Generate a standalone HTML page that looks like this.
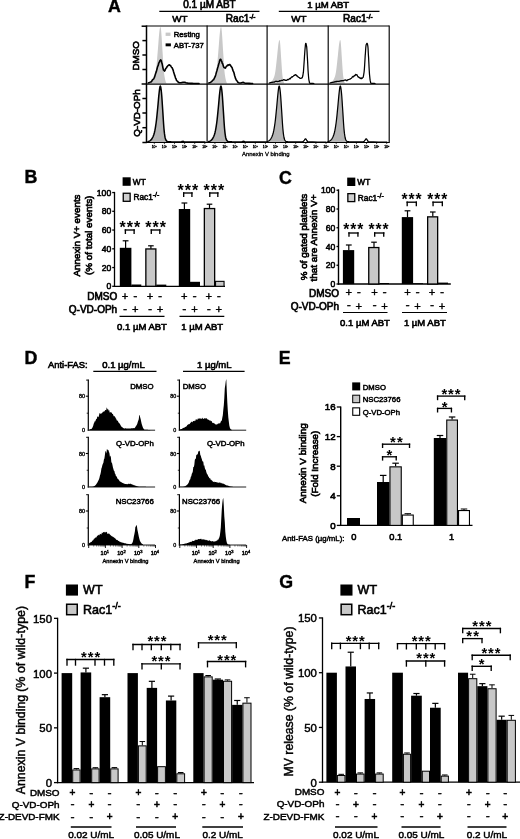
<!DOCTYPE html>
<html><head><meta charset="utf-8"><title>Figure</title>
<style>html,body{margin:0;padding:0;background:#fff}svg{display:block}text{font-family:'Liberation Sans', sans-serif;fill:#000}</style>
</head><body>
<svg width="520" height="839" viewBox="0 0 520 839">
<rect width="520" height="839" fill="#fff"/>
<text x="108.00" y="12.40" font-size="17.8" font-weight="bold" stroke="#000" stroke-width="0.4">A</text>
<line x1="159.30" y1="11.30" x2="259.50" y2="11.30" stroke="#000" stroke-width="1.3" stroke-linecap="butt"/>
<line x1="278.80" y1="11.30" x2="379.50" y2="11.30" stroke="#000" stroke-width="1.3" stroke-linecap="butt"/>
<text x="209.50" y="7.70" font-size="10.0" text-anchor="middle" stroke="#000" stroke-width="0.65">0.1 µM ABT</text>
<text x="328.20" y="7.80" font-size="9.5" text-anchor="middle" stroke="#000" stroke-width="0.62">1 µM ABT</text>
<text x="179.80" y="22.00" font-size="9.8" text-anchor="middle" stroke="#000" stroke-width="0.64">WT</text>
<text x="298.90" y="22.00" font-size="9.8" text-anchor="middle" stroke="#000" stroke-width="0.64">WT</text>
<text x="225.80" y="22.00" font-size="10.1" stroke="#000" stroke-width="0.66">Rac1<tspan font-size="6.40" dy="-3.40">-/-</tspan></text>
<text x="343.00" y="22.00" font-size="10.1" stroke="#000" stroke-width="0.66">Rac1<tspan font-size="6.40" dy="-3.40">-/-</tspan></text>
<text x="139.30" y="55.80" font-size="9.8" text-anchor="middle" transform="rotate(-90 139.30 55.80)" stroke="#000" stroke-width="0.64">DMSO</text>
<text x="139.80" y="113.00" font-size="9.8" text-anchor="middle" transform="rotate(-90 139.80 113.00)" stroke="#000" stroke-width="0.64">Q-VD-OPh</text>
<path d="M148.90,83.60 L149.47,83.23 L150.28,82.76 L151.20,82.13 L152.13,81.30 L152.93,80.20 L153.59,78.91 L154.21,77.45 L154.78,75.73 L155.31,73.67 L155.80,71.15 L156.24,68.05 L156.62,64.42 L156.97,60.48 L157.30,56.43 L157.64,52.47 L157.98,48.35 L158.32,43.95 L158.65,39.62 L158.96,35.73 L159.25,32.66 L159.51,30.44 L159.75,28.83 L159.98,27.77 L160.19,27.18 L160.40,27.00 L160.59,27.21 L160.77,27.85 L160.94,28.96 L161.12,30.55 L161.31,32.66 L161.52,35.43 L161.74,38.85 L161.98,42.68 L162.22,46.73 L162.48,50.77 L162.76,55.06 L163.05,59.73 L163.35,64.41 L163.66,68.72 L163.97,72.28 L164.30,75.00 L164.63,77.12 L164.97,78.80 L165.29,80.16 L165.60,81.34 L165.90,82.26 L166.21,82.84 L166.49,83.18 L166.73,83.40 L166.90,83.60 Z" fill="#c8c8c8"/>
<path d="M148.20,83.00 L148.80,82.76 L149.66,82.42 L150.62,81.91 L151.50,81.64 L152.28,80.07 L153.05,79.35 L153.79,78.81 L154.50,77.15 L155.16,74.90 L155.79,73.03 L156.40,71.36 L157.00,68.95 L157.61,66.63 L158.21,65.47 L158.79,63.03 L159.30,62.13 L159.74,61.17 L160.12,60.42 L160.46,60.59 L160.80,59.91 L161.10,60.67 L161.37,60.93 L161.65,62.69 L162.00,63.18 L162.44,65.30 L162.93,67.84 L163.46,69.95 L164.00,70.44 L164.54,71.11 L165.08,70.24 L165.66,68.61 L166.30,68.03 L167.04,66.73 L167.86,65.78 L168.67,65.05 L169.40,64.83 L170.02,65.40 L170.57,65.51 L171.09,66.65 L171.60,67.35 L172.09,67.64 L172.56,68.91 L173.02,69.78 L173.50,71.58 L173.99,73.15 L174.49,74.89 L175.00,76.17 L175.50,78.10 L175.99,78.79 L176.47,80.38 L176.96,80.82 L177.50,81.14 L178.05,82.02 L178.62,82.41 L179.26,82.66 L180.00,82.80 L180.92,82.75 L181.97,82.53 L183.04,82.30 L184.00,82.20 L184.77,82.31 L185.44,82.54 L186.13,82.80 L187.00,83.00 L188.06,83.14 L189.25,83.24 L190.56,83.33 L192.00,83.40 L193.77,83.45 L195.81,83.48 L197.70,83.49 L199.00,83.50" fill="none" stroke="#000" stroke-width="1.6" stroke-linejoin="round" stroke-linecap="round"/>
<path d="M209.50,83.60 L210.07,83.23 L210.88,82.76 L211.80,82.13 L212.73,81.30 L213.53,80.20 L214.19,78.91 L214.81,77.45 L215.38,75.73 L215.91,73.67 L216.40,71.15 L216.84,68.05 L217.22,64.42 L217.57,60.48 L217.90,56.43 L218.24,52.47 L218.58,48.35 L218.92,43.95 L219.25,39.62 L219.56,35.73 L219.85,32.66 L220.11,30.44 L220.35,28.83 L220.58,27.77 L220.79,27.18 L221.00,27.00 L221.19,27.21 L221.37,27.85 L221.54,28.96 L221.72,30.55 L221.91,32.66 L222.12,35.43 L222.34,38.85 L222.58,42.68 L222.82,46.73 L223.08,50.77 L223.36,55.06 L223.65,59.73 L223.95,64.41 L224.26,68.72 L224.57,72.28 L224.90,75.00 L225.23,77.12 L225.57,78.80 L225.89,80.16 L226.20,81.34 L226.50,82.26 L226.81,82.84 L227.09,83.18 L227.33,83.40 L227.50,83.60 Z" fill="#c8c8c8"/>
<path d="M208.80,83.00 L209.40,82.77 L210.26,82.45 L211.22,81.88 L212.10,81.06 L212.88,80.10 L213.65,79.70 L214.39,78.10 L215.10,76.67 L215.77,74.65 L216.41,72.28 L217.02,70.31 L217.60,68.07 L218.15,66.27 L218.68,64.20 L219.17,62.63 L219.60,60.95 L219.95,59.83 L220.24,59.33 L220.50,59.68 L220.80,59.30 L221.11,60.22 L221.43,61.01 L221.78,61.54 L222.20,63.26 L222.73,63.86 L223.34,66.11 L223.98,67.42 L224.60,67.64 L225.18,68.10 L225.76,67.55 L226.33,66.26 L226.90,66.15 L227.47,65.19 L228.04,65.40 L228.62,64.84 L229.20,65.03 L229.80,64.47 L230.42,65.24 L231.03,66.24 L231.60,67.10 L232.13,67.75 L232.62,69.59 L233.11,70.90 L233.60,71.82 L234.10,73.27 L234.60,75.49 L235.10,76.97 L235.60,78.65 L236.09,79.64 L236.57,80.50 L237.06,80.94 L237.60,82.00 L238.18,82.46 L238.79,82.76 L239.43,82.92 L240.10,83.00 L240.83,82.93 L241.60,82.71 L242.37,82.49 L243.10,82.40 L243.65,82.51 L244.10,82.74 L244.67,83.00 L245.60,83.20 L247.20,83.32 L249.26,83.40 L251.24,83.46 L252.60,83.50" fill="none" stroke="#000" stroke-width="1.6" stroke-linejoin="round" stroke-linecap="round"/>
<path d="M268.00,83.60 L268.57,83.31 L269.38,82.95 L270.30,82.47 L271.23,81.83 L272.02,80.98 L272.69,79.99 L273.31,78.86 L273.88,77.54 L274.41,75.95 L274.90,74.01 L275.34,71.62 L275.72,68.83 L276.07,65.79 L276.40,62.67 L276.74,59.62 L277.08,56.45 L277.42,53.06 L277.75,49.72 L278.06,46.73 L278.35,44.36 L278.62,42.65 L278.86,41.41 L279.09,40.59 L279.30,40.14 L279.50,40.00 L279.67,40.16 L279.81,40.66 L279.94,41.51 L280.08,42.73 L280.23,44.36 L280.40,46.49 L280.57,49.12 L280.76,52.08 L280.96,55.20 L281.16,58.31 L281.38,61.61 L281.62,65.21 L281.86,68.82 L282.11,72.14 L282.36,74.88 L282.62,76.97 L282.88,78.61 L283.15,79.90 L283.41,80.95 L283.66,81.86 L283.90,82.57 L284.14,83.01 L284.37,83.28 L284.56,83.45 L284.70,83.60 Z" fill="#c8c8c8"/>
<path d="M269.20,83.00 L269.74,82.87 L270.51,82.68 L271.38,82.48 L272.20,82.30 L272.95,82.16 L273.70,82.04 L274.45,82.05 L275.20,81.37 L275.95,81.45 L276.70,81.24 L277.45,81.54 L278.20,81.36 L278.95,81.47 L279.70,80.70 L280.45,80.94 L281.20,80.48 L281.97,80.43 L282.76,80.41 L283.52,79.72 L284.20,79.73 L284.76,80.18 L285.23,80.26 L285.68,80.13 L286.20,80.48 L286.82,80.49 L287.51,79.44 L288.19,79.80 L288.80,79.38 L289.32,78.81 L289.79,78.43 L290.23,78.91 L290.70,78.05 L291.19,77.43 L291.69,76.96 L292.20,77.15 L292.70,76.49 L293.22,76.27 L293.76,75.82 L294.26,75.30 L294.70,75.43 L295.03,74.67 L295.29,74.65 L295.52,74.83 L295.80,74.71 L296.13,75.21 L296.48,75.41 L296.84,76.04 L297.20,75.89 L297.56,76.42 L297.91,76.82 L298.29,76.94 L298.70,77.36 L299.18,77.52 L299.70,77.94 L300.22,78.45 L300.70,78.28 L301.12,78.29 L301.50,78.08 L301.86,77.88 L302.20,77.89 L302.52,76.83 L302.82,75.79 L303.11,73.93 L303.40,72.21 L303.69,68.29 L303.97,64.17 L304.25,60.26 L304.50,56.13 L304.73,52.95 L304.93,50.32 L305.12,48.13 L305.30,46.25 L305.46,44.49 L305.60,43.54 L305.74,43.45 L305.90,43.39 L306.09,43.60 L306.29,44.86 L306.50,45.82 L306.70,46.83 L306.88,49.24 L307.04,51.62 L307.21,55.09 L307.40,57.96 L307.61,61.62 L307.83,65.96 L308.06,70.50 L308.30,73.79 L308.54,76.80 L308.79,79.28 L309.04,80.57 L309.30,82.00 L309.51,82.82 L309.69,83.14 L309.95,83.21 L310.40,83.30 L311.19,83.43 L312.22,83.48 L313.21,83.49 L313.90,83.50" fill="none" stroke="#000" stroke-width="1.25" stroke-linejoin="round" stroke-linecap="round"/>
<path d="M328.70,83.60 L329.27,83.31 L330.08,82.95 L331.00,82.47 L331.93,81.83 L332.72,80.98 L333.39,79.99 L334.01,78.86 L334.58,77.54 L335.11,75.95 L335.60,74.01 L336.04,71.62 L336.42,68.83 L336.77,65.79 L337.10,62.67 L337.44,59.62 L337.78,56.45 L338.12,53.06 L338.45,49.72 L338.76,46.73 L339.05,44.36 L339.32,42.65 L339.56,41.41 L339.79,40.59 L340.00,40.14 L340.20,40.00 L340.37,40.16 L340.51,40.66 L340.64,41.51 L340.78,42.73 L340.93,44.36 L341.10,46.49 L341.27,49.12 L341.46,52.08 L341.66,55.20 L341.86,58.31 L342.08,61.61 L342.32,65.21 L342.56,68.82 L342.81,72.14 L343.06,74.88 L343.32,76.97 L343.58,78.61 L343.85,79.90 L344.11,80.95 L344.36,81.86 L344.60,82.57 L344.84,83.01 L345.07,83.28 L345.26,83.45 L345.40,83.60 Z" fill="#c8c8c8"/>
<path d="M329.90,83.00 L330.44,82.87 L331.21,82.68 L332.08,82.48 L332.90,82.30 L333.65,82.16 L334.40,82.04 L335.15,81.51 L335.90,81.98 L336.65,81.33 L337.40,81.45 L338.15,81.49 L338.90,81.46 L339.65,81.08 L340.40,81.07 L341.15,80.58 L341.90,80.84 L342.67,80.57 L343.46,80.72 L344.22,80.19 L344.90,80.23 L345.46,79.99 L345.92,79.93 L346.38,80.70 L346.90,80.69 L347.52,80.10 L348.21,79.52 L348.89,79.53 L349.50,79.20 L350.02,79.20 L350.49,78.82 L350.93,78.51 L351.40,78.27 L351.89,77.69 L352.39,76.92 L352.90,76.45 L353.40,76.80 L353.92,76.30 L354.46,75.43 L354.96,75.62 L355.40,75.02 L355.73,74.42 L355.99,74.93 L356.22,74.60 L356.50,74.99 L356.83,75.05 L357.18,74.98 L357.54,75.96 L357.90,76.56 L358.26,77.02 L358.61,76.85 L358.99,77.35 L359.40,77.78 L359.88,77.58 L360.40,78.45 L360.92,78.58 L361.40,78.00 L361.82,78.48 L362.20,78.22 L362.56,77.81 L362.90,77.59 L363.22,77.12 L363.52,75.74 L363.81,73.87 L364.10,72.00 L364.39,68.85 L364.68,64.69 L364.95,60.02 L365.20,55.59 L365.41,53.32 L365.60,50.24 L365.79,47.45 L366.00,45.66 L366.26,44.36 L366.55,44.11 L366.84,43.30 L367.10,43.88 L367.32,43.51 L367.52,44.49 L367.71,45.43 L367.90,46.58 L368.08,48.65 L368.24,52.08 L368.41,55.15 L368.60,57.66 L368.81,62.05 L369.03,66.63 L369.26,70.81 L369.50,74.35 L369.74,76.57 L369.99,79.11 L370.24,80.66 L370.50,82.00 L370.71,82.82 L370.89,83.14 L371.15,83.21 L371.60,83.30 L372.39,83.43 L373.42,83.48 L374.41,83.49 L375.10,83.50" fill="none" stroke="#000" stroke-width="1.25" stroke-linejoin="round" stroke-linecap="round"/>
<path d="M147.90,141.60 L148.25,141.49 L148.76,141.34 L149.34,141.12 L149.90,140.80 L150.44,140.41 L150.99,139.94 L151.55,139.34 L152.10,138.50 L152.66,137.46 L153.22,136.23 L153.78,134.77 L154.30,133.00 L154.78,130.93 L155.24,128.59 L155.67,125.96 L156.10,123.00 L156.52,119.60 L156.92,115.81 L157.32,111.87 L157.70,108.00 L158.07,104.06 L158.42,100.00 L158.77,96.19 L159.10,93.00 L159.41,90.36 L159.71,88.12 L160.00,86.58 L160.30,86.00 L160.60,86.53 L160.90,88.00 L161.20,90.22 L161.50,93.00 L161.80,96.52 L162.10,100.81 L162.40,105.45 L162.70,110.00 L163.00,114.63 L163.30,119.47 L163.60,124.07 L163.90,128.00 L164.20,131.12 L164.49,133.67 L164.79,135.76 L165.10,137.50 L165.41,138.82 L165.73,139.69 L166.07,140.29 L166.50,140.80 L166.83,141.21 L167.09,141.44 L167.66,141.58 L168.90,141.70 L168.90,142.00 L147.90,142.00 Z" fill="#b4b4b4"/>
<path d="M147.90,141.60 L148.25,141.49 L148.76,141.34 L149.34,141.12 L149.90,140.80 L150.44,140.41 L150.99,139.94 L151.55,139.34 L152.10,138.50 L152.66,137.46 L153.22,136.23 L153.78,134.77 L154.30,133.00 L154.78,130.93 L155.24,128.59 L155.67,125.96 L156.10,123.00 L156.52,119.60 L156.92,115.81 L157.32,111.87 L157.70,108.00 L158.07,104.06 L158.42,100.00 L158.77,96.19 L159.10,93.00 L159.41,90.36 L159.71,88.12 L160.00,86.58 L160.30,86.00 L160.60,86.53 L160.90,88.00 L161.20,90.22 L161.50,93.00 L161.80,96.52 L162.10,100.81 L162.40,105.45 L162.70,110.00 L163.00,114.63 L163.30,119.47 L163.60,124.07 L163.90,128.00 L164.20,131.12 L164.49,133.67 L164.79,135.76 L165.10,137.50 L165.41,138.82 L165.73,139.69 L166.07,140.29 L166.50,140.80 L166.83,141.21 L167.09,141.44 L167.66,141.58 L168.90,141.70 L171.25,141.82 L174.41,141.89 L177.59,141.92 L180.00,141.90 L181.32,141.78 L182.01,141.58 L182.44,141.38 L183.00,141.30 L183.38,141.38 L183.50,141.56 L184.12,141.76 L186.00,141.90 L190.07,141.96 L195.69,141.99 L201.21,141.99 L205.00,142.00" fill="none" stroke="#000" stroke-width="1.5" stroke-linejoin="round" stroke-linecap="round"/>
<path d="M208.50,141.60 L208.85,141.49 L209.36,141.34 L209.94,141.12 L210.50,140.80 L211.04,140.41 L211.59,139.94 L212.15,139.34 L212.70,138.50 L213.26,137.46 L213.82,136.23 L214.38,134.77 L214.90,133.00 L215.38,130.93 L215.84,128.59 L216.27,125.96 L216.70,123.00 L217.12,119.60 L217.52,115.81 L217.92,111.87 L218.30,108.00 L218.67,104.06 L219.02,100.00 L219.37,96.19 L219.70,93.00 L220.01,90.36 L220.31,88.12 L220.60,86.58 L220.90,86.00 L221.20,86.53 L221.50,88.00 L221.80,90.22 L222.10,93.00 L222.40,96.52 L222.70,100.81 L223.00,105.45 L223.30,110.00 L223.60,114.63 L223.90,119.47 L224.20,124.07 L224.50,128.00 L224.80,131.12 L225.09,133.67 L225.39,135.76 L225.70,137.50 L226.01,138.82 L226.32,139.69 L226.67,140.29 L227.10,140.80 L227.43,141.21 L227.69,141.44 L228.26,141.58 L229.50,141.70 L229.50,142.00 L208.50,142.00 Z" fill="#b4b4b4"/>
<path d="M208.50,141.60 L208.85,141.49 L209.36,141.34 L209.94,141.12 L210.50,140.80 L211.04,140.41 L211.59,139.94 L212.15,139.34 L212.70,138.50 L213.26,137.46 L213.82,136.23 L214.38,134.77 L214.90,133.00 L215.38,130.93 L215.84,128.59 L216.27,125.96 L216.70,123.00 L217.12,119.60 L217.52,115.81 L217.92,111.87 L218.30,108.00 L218.67,104.06 L219.02,100.00 L219.37,96.19 L219.70,93.00 L220.01,90.36 L220.31,88.12 L220.60,86.58 L220.90,86.00 L221.20,86.53 L221.50,88.00 L221.80,90.22 L222.10,93.00 L222.40,96.52 L222.70,100.81 L223.00,105.45 L223.30,110.00 L223.60,114.63 L223.90,119.47 L224.20,124.07 L224.50,128.00 L224.80,131.12 L225.09,133.67 L225.39,135.76 L225.70,137.50 L226.01,138.82 L226.32,139.69 L226.67,140.29 L227.10,140.80 L227.43,141.21 L227.69,141.44 L228.26,141.58 L229.50,141.70 L231.85,141.82 L235.01,141.89 L238.19,141.92 L240.60,141.90 L241.92,141.78 L242.61,141.58 L243.04,141.38 L243.60,141.30 L243.97,141.38 L244.10,141.56 L244.72,141.76 L246.60,141.90 L250.67,141.96 L256.29,141.99 L261.81,141.99 L265.60,142.00" fill="none" stroke="#000" stroke-width="1.5" stroke-linejoin="round" stroke-linecap="round"/>
<path d="M266.80,141.60 L267.15,141.49 L267.66,141.34 L268.24,141.12 L268.80,140.80 L269.34,140.41 L269.89,139.94 L270.45,139.34 L271.00,138.50 L271.56,137.46 L272.13,136.23 L272.68,134.77 L273.20,133.00 L273.68,130.93 L274.14,128.59 L274.57,125.96 L275.00,123.00 L275.42,119.60 L275.82,115.81 L276.22,111.87 L276.60,108.00 L276.97,104.06 L277.32,100.00 L277.67,96.19 L278.00,93.00 L278.31,90.36 L278.61,88.12 L278.90,86.58 L279.20,86.00 L279.50,86.53 L279.80,88.00 L280.10,90.22 L280.40,93.00 L280.70,96.52 L281.00,100.81 L281.30,105.45 L281.60,110.00 L281.90,114.63 L282.20,119.47 L282.50,124.07 L282.80,128.00 L283.10,131.12 L283.39,133.67 L283.69,135.76 L284.00,137.50 L284.31,138.82 L284.62,139.69 L284.97,140.29 L285.40,140.80 L285.67,141.21 L285.85,141.45 L286.40,141.59 L287.80,141.70 L287.80,142.00 L266.80,142.00 Z" fill="#b4b4b4"/>
<path d="M266.80,141.60 L267.15,141.49 L267.66,141.34 L268.24,141.12 L268.80,140.80 L269.34,140.41 L269.89,139.94 L270.45,139.34 L271.00,138.50 L271.56,137.46 L272.13,136.23 L272.68,134.77 L273.20,133.00 L273.68,130.93 L274.14,128.59 L274.57,125.96 L275.00,123.00 L275.42,119.60 L275.82,115.81 L276.22,111.87 L276.60,108.00 L276.97,104.06 L277.32,100.00 L277.67,96.19 L278.00,93.00 L278.31,90.36 L278.61,88.12 L278.90,86.58 L279.20,86.00 L279.50,86.53 L279.80,88.00 L280.10,90.22 L280.40,93.00 L280.70,96.52 L281.00,100.81 L281.30,105.45 L281.60,110.00 L281.90,114.63 L282.20,119.47 L282.50,124.07 L282.80,128.00 L283.10,131.12 L283.39,133.67 L283.69,135.76 L284.00,137.50 L284.31,138.82 L284.62,139.69 L284.97,140.29 L285.40,140.80 L285.67,141.21 L285.85,141.45 L286.40,141.59 L287.80,141.70 L290.63,141.80 L294.49,141.86 L298.36,141.86 L301.20,141.80 L302.61,141.70 L303.17,141.54 L303.38,141.32 L303.70,141.00 L304.20,140.45 L304.65,139.71 L305.07,139.07 L305.50,138.80 L305.93,139.07 L306.34,139.71 L306.76,140.44 L307.20,141.00 L307.33,141.34 L307.24,141.58 L307.64,141.76 L309.20,141.90 L312.79,141.98 L317.82,142.01 L322.79,142.00 L326.20,142.00" fill="none" stroke="#000" stroke-width="1.25" stroke-linejoin="round" stroke-linecap="round"/>
<path d="M327.90,141.60 L328.25,141.49 L328.76,141.34 L329.34,141.12 L329.90,140.80 L330.44,140.41 L330.99,139.94 L331.55,139.34 L332.10,138.50 L332.66,137.46 L333.22,136.23 L333.78,134.77 L334.30,133.00 L334.78,130.93 L335.24,128.59 L335.67,125.96 L336.10,123.00 L336.52,119.60 L336.93,115.81 L337.32,111.87 L337.70,108.00 L338.07,104.06 L338.42,100.00 L338.77,96.19 L339.10,93.00 L339.41,90.36 L339.71,88.12 L340.00,86.58 L340.30,86.00 L340.60,86.53 L340.90,88.00 L341.20,90.22 L341.50,93.00 L341.80,96.52 L342.10,100.81 L342.40,105.45 L342.70,110.00 L343.00,114.63 L343.30,119.47 L343.60,124.07 L343.90,128.00 L344.20,131.12 L344.49,133.67 L344.79,135.76 L345.10,137.50 L345.41,138.82 L345.73,139.69 L346.08,140.29 L346.50,140.80 L346.78,141.21 L346.97,141.45 L347.53,141.59 L348.90,141.70 L348.90,142.00 L327.90,142.00 Z" fill="#b4b4b4"/>
<path d="M327.90,141.60 L328.25,141.49 L328.76,141.34 L329.34,141.12 L329.90,140.80 L330.44,140.41 L330.99,139.94 L331.55,139.34 L332.10,138.50 L332.66,137.46 L333.22,136.23 L333.78,134.77 L334.30,133.00 L334.78,130.93 L335.24,128.59 L335.67,125.96 L336.10,123.00 L336.52,119.60 L336.93,115.81 L337.32,111.87 L337.70,108.00 L338.07,104.06 L338.42,100.00 L338.77,96.19 L339.10,93.00 L339.41,90.36 L339.71,88.12 L340.00,86.58 L340.30,86.00 L340.60,86.53 L340.90,88.00 L341.20,90.22 L341.50,93.00 L341.80,96.52 L342.10,100.81 L342.40,105.45 L342.70,110.00 L343.00,114.63 L343.30,119.47 L343.60,124.07 L343.90,128.00 L344.20,131.12 L344.49,133.67 L344.79,135.76 L345.10,137.50 L345.41,138.82 L345.73,139.69 L346.08,140.29 L346.50,140.80 L346.78,141.21 L346.97,141.45 L347.53,141.59 L348.90,141.70 L351.65,141.80 L355.39,141.86 L359.14,141.86 L361.90,141.80 L363.28,141.70 L363.85,141.54 L364.07,141.32 L364.40,141.00 L364.90,140.45 L365.35,139.71 L365.77,139.07 L366.20,138.80 L366.62,139.07 L367.04,139.71 L367.46,140.44 L367.90,141.00 L368.03,141.34 L367.94,141.58 L368.34,141.76 L369.90,141.90 L373.49,141.98 L378.52,142.01 L383.49,142.00 L386.90,142.00" fill="none" stroke="#000" stroke-width="1.25" stroke-linejoin="round" stroke-linecap="round"/>
<rect x="165.60" y="32.60" width="4.90" height="3.30" fill="#c8c8c8"/>
<text x="173.80" y="37.20" font-size="7.7" stroke="#000" stroke-width="0.5">Resting</text>
<rect x="165.60" y="43.40" width="5.30" height="2.90" fill="#000"/>
<text x="173.80" y="47.80" font-size="7.7" stroke="#000" stroke-width="0.5">ABT-737</text>
<line x1="146.50" y1="25.40" x2="146.50" y2="143.10" stroke="#000" stroke-width="1.5" stroke-linecap="butt"/>
<line x1="207.10" y1="25.40" x2="207.10" y2="143.10" stroke="#000" stroke-width="1.15" stroke-linecap="butt"/>
<line x1="267.10" y1="25.40" x2="267.10" y2="143.10" stroke="#000" stroke-width="1.15" stroke-linecap="butt"/>
<line x1="328.20" y1="25.40" x2="328.20" y2="143.10" stroke="#000" stroke-width="1.15" stroke-linecap="butt"/>
<line x1="389.20" y1="25.40" x2="389.20" y2="143.10" stroke="#000" stroke-width="1.15" stroke-linecap="butt"/>
<line x1="146.50" y1="26.00" x2="389.20" y2="26.00" stroke="#000" stroke-width="1.2" stroke-linecap="butt"/>
<line x1="146.50" y1="84.10" x2="389.20" y2="84.10" stroke="#000" stroke-width="1.2" stroke-linecap="butt"/>
<line x1="146.50" y1="142.50" x2="389.20" y2="142.50" stroke="#000" stroke-width="1.2" stroke-linecap="butt"/>
<line x1="141.60" y1="26.20" x2="146.50" y2="26.20" stroke="#000" stroke-width="1.5" stroke-linecap="butt"/>
<line x1="142.40" y1="40.60" x2="146.50" y2="40.60" stroke="#000" stroke-width="1.5" stroke-linecap="butt"/>
<line x1="142.40" y1="55.00" x2="146.50" y2="55.00" stroke="#000" stroke-width="1.5" stroke-linecap="butt"/>
<line x1="142.40" y1="69.50" x2="146.50" y2="69.50" stroke="#000" stroke-width="1.5" stroke-linecap="butt"/>
<line x1="141.60" y1="84.00" x2="146.50" y2="84.00" stroke="#000" stroke-width="1.5" stroke-linecap="butt"/>
<line x1="142.40" y1="98.50" x2="146.50" y2="98.50" stroke="#000" stroke-width="1.5" stroke-linecap="butt"/>
<line x1="142.40" y1="113.00" x2="146.50" y2="113.00" stroke="#000" stroke-width="1.5" stroke-linecap="butt"/>
<line x1="142.40" y1="127.70" x2="146.50" y2="127.70" stroke="#000" stroke-width="1.5" stroke-linecap="butt"/>
<line x1="142.40" y1="142.50" x2="146.50" y2="142.50" stroke="#000" stroke-width="1.5" stroke-linecap="butt"/>
<text x="154.30" y="148.2" font-size="3.4" text-anchor="middle" stroke="#000" stroke-width="0.3">10<tspan font-size="2.4" dy="-1.4">0</tspan></text>
<line x1="154.30" y1="142.50" x2="154.30" y2="144.00" stroke="#000" stroke-width="0.7" stroke-linecap="butt"/>
<text x="164.40" y="148.2" font-size="3.4" text-anchor="middle" stroke="#000" stroke-width="0.3">10<tspan font-size="2.4" dy="-1.4">1</tspan></text>
<line x1="164.40" y1="142.50" x2="164.40" y2="144.00" stroke="#000" stroke-width="0.7" stroke-linecap="butt"/>
<text x="174.50" y="148.2" font-size="3.4" text-anchor="middle" stroke="#000" stroke-width="0.3">10<tspan font-size="2.4" dy="-1.4">2</tspan></text>
<line x1="174.50" y1="142.50" x2="174.50" y2="144.00" stroke="#000" stroke-width="0.7" stroke-linecap="butt"/>
<text x="184.60" y="148.2" font-size="3.4" text-anchor="middle" stroke="#000" stroke-width="0.3">10<tspan font-size="2.4" dy="-1.4">3</tspan></text>
<line x1="184.60" y1="142.50" x2="184.60" y2="144.00" stroke="#000" stroke-width="0.7" stroke-linecap="butt"/>
<text x="194.70" y="148.2" font-size="3.4" text-anchor="middle" stroke="#000" stroke-width="0.3">10<tspan font-size="2.4" dy="-1.4">4</tspan></text>
<line x1="194.70" y1="142.50" x2="194.70" y2="144.00" stroke="#000" stroke-width="0.7" stroke-linecap="butt"/>
<text x="204.80" y="148.2" font-size="3.4" text-anchor="middle" stroke="#000" stroke-width="0.3">10<tspan font-size="2.4" dy="-1.4">5</tspan></text>
<line x1="204.80" y1="142.50" x2="204.80" y2="144.00" stroke="#000" stroke-width="0.7" stroke-linecap="butt"/>
<text x="214.90" y="148.2" font-size="3.4" text-anchor="middle" stroke="#000" stroke-width="0.3">10<tspan font-size="2.4" dy="-1.4">0</tspan></text>
<line x1="214.90" y1="142.50" x2="214.90" y2="144.00" stroke="#000" stroke-width="0.7" stroke-linecap="butt"/>
<text x="225.00" y="148.2" font-size="3.4" text-anchor="middle" stroke="#000" stroke-width="0.3">10<tspan font-size="2.4" dy="-1.4">1</tspan></text>
<line x1="225.00" y1="142.50" x2="225.00" y2="144.00" stroke="#000" stroke-width="0.7" stroke-linecap="butt"/>
<text x="235.10" y="148.2" font-size="3.4" text-anchor="middle" stroke="#000" stroke-width="0.3">10<tspan font-size="2.4" dy="-1.4">2</tspan></text>
<line x1="235.10" y1="142.50" x2="235.10" y2="144.00" stroke="#000" stroke-width="0.7" stroke-linecap="butt"/>
<text x="245.20" y="148.2" font-size="3.4" text-anchor="middle" stroke="#000" stroke-width="0.3">10<tspan font-size="2.4" dy="-1.4">3</tspan></text>
<line x1="245.20" y1="142.50" x2="245.20" y2="144.00" stroke="#000" stroke-width="0.7" stroke-linecap="butt"/>
<text x="255.30" y="148.2" font-size="3.4" text-anchor="middle" stroke="#000" stroke-width="0.3">10<tspan font-size="2.4" dy="-1.4">4</tspan></text>
<line x1="255.30" y1="142.50" x2="255.30" y2="144.00" stroke="#000" stroke-width="0.7" stroke-linecap="butt"/>
<text x="265.40" y="148.2" font-size="3.4" text-anchor="middle" stroke="#000" stroke-width="0.3">10<tspan font-size="2.4" dy="-1.4">5</tspan></text>
<line x1="265.40" y1="142.50" x2="265.40" y2="144.00" stroke="#000" stroke-width="0.7" stroke-linecap="butt"/>
<text x="275.50" y="148.2" font-size="3.4" text-anchor="middle" stroke="#000" stroke-width="0.3">10<tspan font-size="2.4" dy="-1.4">0</tspan></text>
<line x1="275.50" y1="142.50" x2="275.50" y2="144.00" stroke="#000" stroke-width="0.7" stroke-linecap="butt"/>
<text x="285.60" y="148.2" font-size="3.4" text-anchor="middle" stroke="#000" stroke-width="0.3">10<tspan font-size="2.4" dy="-1.4">1</tspan></text>
<line x1="285.60" y1="142.50" x2="285.60" y2="144.00" stroke="#000" stroke-width="0.7" stroke-linecap="butt"/>
<text x="295.70" y="148.2" font-size="3.4" text-anchor="middle" stroke="#000" stroke-width="0.3">10<tspan font-size="2.4" dy="-1.4">2</tspan></text>
<line x1="295.70" y1="142.50" x2="295.70" y2="144.00" stroke="#000" stroke-width="0.7" stroke-linecap="butt"/>
<text x="305.80" y="148.2" font-size="3.4" text-anchor="middle" stroke="#000" stroke-width="0.3">10<tspan font-size="2.4" dy="-1.4">3</tspan></text>
<line x1="305.80" y1="142.50" x2="305.80" y2="144.00" stroke="#000" stroke-width="0.7" stroke-linecap="butt"/>
<text x="315.90" y="148.2" font-size="3.4" text-anchor="middle" stroke="#000" stroke-width="0.3">10<tspan font-size="2.4" dy="-1.4">4</tspan></text>
<line x1="315.90" y1="142.50" x2="315.90" y2="144.00" stroke="#000" stroke-width="0.7" stroke-linecap="butt"/>
<text x="326.00" y="148.2" font-size="3.4" text-anchor="middle" stroke="#000" stroke-width="0.3">10<tspan font-size="2.4" dy="-1.4">5</tspan></text>
<line x1="326.00" y1="142.50" x2="326.00" y2="144.00" stroke="#000" stroke-width="0.7" stroke-linecap="butt"/>
<text x="336.20" y="148.2" font-size="3.4" text-anchor="middle" stroke="#000" stroke-width="0.3">10<tspan font-size="2.4" dy="-1.4">0</tspan></text>
<line x1="336.20" y1="142.50" x2="336.20" y2="144.00" stroke="#000" stroke-width="0.7" stroke-linecap="butt"/>
<text x="346.30" y="148.2" font-size="3.4" text-anchor="middle" stroke="#000" stroke-width="0.3">10<tspan font-size="2.4" dy="-1.4">1</tspan></text>
<line x1="346.30" y1="142.50" x2="346.30" y2="144.00" stroke="#000" stroke-width="0.7" stroke-linecap="butt"/>
<text x="356.40" y="148.2" font-size="3.4" text-anchor="middle" stroke="#000" stroke-width="0.3">10<tspan font-size="2.4" dy="-1.4">2</tspan></text>
<line x1="356.40" y1="142.50" x2="356.40" y2="144.00" stroke="#000" stroke-width="0.7" stroke-linecap="butt"/>
<text x="366.50" y="148.2" font-size="3.4" text-anchor="middle" stroke="#000" stroke-width="0.3">10<tspan font-size="2.4" dy="-1.4">3</tspan></text>
<line x1="366.50" y1="142.50" x2="366.50" y2="144.00" stroke="#000" stroke-width="0.7" stroke-linecap="butt"/>
<text x="376.60" y="148.2" font-size="3.4" text-anchor="middle" stroke="#000" stroke-width="0.3">10<tspan font-size="2.4" dy="-1.4">4</tspan></text>
<line x1="376.60" y1="142.50" x2="376.60" y2="144.00" stroke="#000" stroke-width="0.7" stroke-linecap="butt"/>
<text x="386.70" y="148.2" font-size="3.4" text-anchor="middle" stroke="#000" stroke-width="0.3">10<tspan font-size="2.4" dy="-1.4">5</tspan></text>
<line x1="386.70" y1="142.50" x2="386.70" y2="144.00" stroke="#000" stroke-width="0.7" stroke-linecap="butt"/>
<text x="265.80" y="156.20" font-size="5.9" text-anchor="middle" textLength="47.50" lengthAdjust="spacingAndGlyphs" stroke="#000" stroke-width="0.3">Annexin V binding</text>
<text x="24.60" y="183.40" font-size="17.8" font-weight="bold" stroke="#000" stroke-width="0.4">B</text>
<line x1="114.50" y1="191.90" x2="114.50" y2="286.90" stroke="#000" stroke-width="1.3" stroke-linecap="butt"/>
<line x1="113.90" y1="286.30" x2="225.00" y2="286.30" stroke="#000" stroke-width="1.3" stroke-linecap="butt"/>
<line x1="112.20" y1="286.30" x2="114.50" y2="286.30" stroke="#000" stroke-width="1.3" stroke-linecap="butt"/>
<text x="111.20" y="289.40" font-size="8.6" text-anchor="end" stroke="#000" stroke-width="0.56">0</text>
<line x1="112.20" y1="267.55" x2="114.50" y2="267.55" stroke="#000" stroke-width="1.3" stroke-linecap="butt"/>
<text x="111.20" y="270.65" font-size="8.6" text-anchor="end" stroke="#000" stroke-width="0.56">20</text>
<line x1="112.20" y1="248.80" x2="114.50" y2="248.80" stroke="#000" stroke-width="1.3" stroke-linecap="butt"/>
<text x="111.20" y="251.90" font-size="8.6" text-anchor="end" stroke="#000" stroke-width="0.56">40</text>
<line x1="112.20" y1="230.05" x2="114.50" y2="230.05" stroke="#000" stroke-width="1.3" stroke-linecap="butt"/>
<text x="111.20" y="233.15" font-size="8.6" text-anchor="end" stroke="#000" stroke-width="0.56">60</text>
<line x1="112.20" y1="211.30" x2="114.50" y2="211.30" stroke="#000" stroke-width="1.3" stroke-linecap="butt"/>
<text x="111.20" y="214.40" font-size="8.6" text-anchor="end" stroke="#000" stroke-width="0.56">80</text>
<line x1="112.20" y1="192.55" x2="114.50" y2="192.55" stroke="#000" stroke-width="1.3" stroke-linecap="butt"/>
<text x="111.20" y="195.65" font-size="8.6" text-anchor="end" stroke="#000" stroke-width="0.56">100</text>
<text x="80.00" y="235.50" font-size="9.8" text-anchor="middle" transform="rotate(-90 80.00 235.50)" textLength="82.00" lengthAdjust="spacingAndGlyphs" stroke="#000" stroke-width="0.64">Annexin V+ events</text>
<text x="91.80" y="235.30" font-size="9.8" text-anchor="middle" transform="rotate(-90 91.80 235.30)" textLength="79.40" lengthAdjust="spacingAndGlyphs" stroke="#000" stroke-width="0.64">(% of total events)</text>
<rect x="122.60" y="177.30" width="8.10" height="8.50" fill="#000"/>
<text x="132.80" y="185.00" font-size="8.3" stroke="#000" stroke-width="0.54">WT</text>
<rect x="123.25" y="193.25" width="6.90" height="8.05" fill="#d0d0d0" stroke="#000" stroke-width="1.3"/>
<text x="133.40" y="200.20" font-size="8.3" stroke="#000" stroke-width="0.54">Rac1<tspan font-size="7.00" dy="-2.80">-/-</tspan></text>
<line x1="125.60" y1="248.00" x2="125.60" y2="240.80" stroke="#000" stroke-width="1.2" stroke-linecap="butt"/>
<line x1="122.70" y1="240.80" x2="128.50" y2="240.80" stroke="#000" stroke-width="1.2" stroke-linecap="butt"/>
<rect x="119.80" y="247.80" width="11.60" height="38.50" fill="#000"/>
<rect x="131.30" y="284.50" width="10.00" height="1.80" fill="#000"/>
<line x1="150.90" y1="248.80" x2="150.90" y2="245.80" stroke="#000" stroke-width="1.2" stroke-linecap="butt"/>
<line x1="148.10" y1="245.80" x2="153.70" y2="245.80" stroke="#000" stroke-width="1.2" stroke-linecap="butt"/>
<rect x="145.85" y="248.95" width="10.00" height="37.35" fill="#c8c8c8" stroke="#000" stroke-width="1.3"/>
<rect x="156.30" y="284.60" width="10.00" height="1.70" fill="#000"/>
<line x1="184.40" y1="209.00" x2="184.40" y2="203.00" stroke="#000" stroke-width="1.2" stroke-linecap="butt"/>
<line x1="181.50" y1="203.00" x2="187.30" y2="203.00" stroke="#000" stroke-width="1.2" stroke-linecap="butt"/>
<rect x="178.80" y="209.00" width="11.40" height="77.30" fill="#000"/>
<rect x="190.00" y="281.80" width="10.00" height="4.50" fill="#000"/>
<line x1="209.50" y1="208.40" x2="209.50" y2="204.20" stroke="#000" stroke-width="1.2" stroke-linecap="butt"/>
<line x1="206.70" y1="204.20" x2="212.30" y2="204.20" stroke="#000" stroke-width="1.2" stroke-linecap="butt"/>
<rect x="204.35" y="208.55" width="10.30" height="77.75" fill="#c8c8c8" stroke="#000" stroke-width="1.3"/>
<rect x="215.55" y="281.35" width="8.50" height="4.95" fill="#c8c8c8" stroke="#000" stroke-width="1.1"/>
<text x="130.31" y="233.19" font-size="16.02" text-anchor="middle" font-weight="bold" letter-spacing="1.02">***</text>
<text x="156.01" y="233.19" font-size="16.02" text-anchor="middle" font-weight="bold" letter-spacing="1.02">***</text>
<text x="188.31" y="196.49" font-size="16.02" text-anchor="middle" font-weight="bold" letter-spacing="1.02">***</text>
<text x="214.31" y="196.49" font-size="16.02" text-anchor="middle" font-weight="bold" letter-spacing="1.02">***</text>
<line x1="124.70" y1="230.00" x2="134.80" y2="230.00" stroke="#000" stroke-width="1.35" stroke-linecap="butt"/>
<line x1="125.38" y1="229.32" x2="125.38" y2="234.00" stroke="#000" stroke-width="1.35" stroke-linecap="butt"/>
<line x1="134.12" y1="229.32" x2="134.12" y2="234.00" stroke="#000" stroke-width="1.35" stroke-linecap="butt"/>
<line x1="150.60" y1="230.00" x2="160.50" y2="230.00" stroke="#000" stroke-width="1.35" stroke-linecap="butt"/>
<line x1="151.28" y1="229.32" x2="151.28" y2="234.00" stroke="#000" stroke-width="1.35" stroke-linecap="butt"/>
<line x1="159.82" y1="229.32" x2="159.82" y2="234.00" stroke="#000" stroke-width="1.35" stroke-linecap="butt"/>
<line x1="183.00" y1="193.00" x2="192.60" y2="193.00" stroke="#000" stroke-width="1.35" stroke-linecap="butt"/>
<line x1="183.68" y1="192.32" x2="183.68" y2="196.90" stroke="#000" stroke-width="1.35" stroke-linecap="butt"/>
<line x1="191.92" y1="192.32" x2="191.92" y2="196.90" stroke="#000" stroke-width="1.35" stroke-linecap="butt"/>
<line x1="209.10" y1="193.00" x2="218.50" y2="193.00" stroke="#000" stroke-width="1.35" stroke-linecap="butt"/>
<line x1="209.78" y1="192.32" x2="209.78" y2="196.90" stroke="#000" stroke-width="1.35" stroke-linecap="butt"/>
<line x1="217.82" y1="192.32" x2="217.82" y2="196.90" stroke="#000" stroke-width="1.35" stroke-linecap="butt"/>
<text x="117.20" y="299.70" font-size="10" text-anchor="end" stroke="#000" stroke-width="0.65">DMSO</text>
<text x="117.20" y="312.50" font-size="10" text-anchor="end" stroke="#000" stroke-width="0.65">Q-VD-OPh</text>
<text x="125.00" y="299.61" font-size="11.2" text-anchor="middle" stroke="#000" stroke-width="0.4">+</text>
<text x="125.00" y="313.06" font-size="12.59" text-anchor="middle" stroke="#000" stroke-width="0.29">-</text>
<text x="135.30" y="299.66" font-size="12.59" text-anchor="middle" stroke="#000" stroke-width="0.29">-</text>
<text x="135.30" y="313.11" font-size="11.2" text-anchor="middle" stroke="#000" stroke-width="0.4">+</text>
<text x="150.00" y="299.61" font-size="11.2" text-anchor="middle" stroke="#000" stroke-width="0.4">+</text>
<text x="150.00" y="313.06" font-size="12.59" text-anchor="middle" stroke="#000" stroke-width="0.29">-</text>
<text x="160.00" y="299.66" font-size="12.59" text-anchor="middle" stroke="#000" stroke-width="0.29">-</text>
<text x="160.00" y="313.11" font-size="11.2" text-anchor="middle" stroke="#000" stroke-width="0.4">+</text>
<text x="184.30" y="299.61" font-size="11.2" text-anchor="middle" stroke="#000" stroke-width="0.4">+</text>
<text x="184.30" y="313.06" font-size="12.59" text-anchor="middle" stroke="#000" stroke-width="0.29">-</text>
<text x="194.50" y="299.66" font-size="12.59" text-anchor="middle" stroke="#000" stroke-width="0.29">-</text>
<text x="194.50" y="313.11" font-size="11.2" text-anchor="middle" stroke="#000" stroke-width="0.4">+</text>
<text x="208.80" y="299.61" font-size="11.2" text-anchor="middle" stroke="#000" stroke-width="0.4">+</text>
<text x="208.80" y="313.06" font-size="12.59" text-anchor="middle" stroke="#000" stroke-width="0.29">-</text>
<text x="218.80" y="299.66" font-size="12.59" text-anchor="middle" stroke="#000" stroke-width="0.29">-</text>
<text x="218.80" y="313.11" font-size="11.2" text-anchor="middle" stroke="#000" stroke-width="0.4">+</text>
<line x1="119.50" y1="316.30" x2="164.50" y2="316.30" stroke="#000" stroke-width="1.2" stroke-linecap="butt"/>
<line x1="179.50" y1="316.30" x2="224.30" y2="316.30" stroke="#000" stroke-width="1.2" stroke-linecap="butt"/>
<text x="142.00" y="329.50" font-size="9.5" text-anchor="middle" stroke="#000" stroke-width="0.62">0.1 µM ABT</text>
<text x="202.20" y="329.50" font-size="9.5" text-anchor="middle" stroke="#000" stroke-width="0.62">1 µM ABT</text>
<text x="279.00" y="183.80" font-size="17.8" font-weight="bold" stroke="#000" stroke-width="0.4">C</text>
<line x1="338.50" y1="189.40" x2="338.50" y2="284.70" stroke="#000" stroke-width="1.4" stroke-linecap="butt"/>
<line x1="338.20" y1="284.00" x2="450.80" y2="284.00" stroke="#000" stroke-width="1.3" stroke-linecap="butt"/>
<line x1="336.50" y1="284.00" x2="338.80" y2="284.00" stroke="#000" stroke-width="1.3" stroke-linecap="butt"/>
<text x="335.40" y="287.10" font-size="8.6" text-anchor="end" stroke="#000" stroke-width="0.56">0</text>
<line x1="336.50" y1="265.25" x2="338.80" y2="265.25" stroke="#000" stroke-width="1.3" stroke-linecap="butt"/>
<text x="335.40" y="268.35" font-size="8.6" text-anchor="end" stroke="#000" stroke-width="0.56">20</text>
<line x1="336.50" y1="246.50" x2="338.80" y2="246.50" stroke="#000" stroke-width="1.3" stroke-linecap="butt"/>
<text x="335.40" y="249.60" font-size="8.6" text-anchor="end" stroke="#000" stroke-width="0.56">40</text>
<line x1="336.50" y1="227.75" x2="338.80" y2="227.75" stroke="#000" stroke-width="1.3" stroke-linecap="butt"/>
<text x="335.40" y="230.85" font-size="8.6" text-anchor="end" stroke="#000" stroke-width="0.56">60</text>
<line x1="336.50" y1="209.00" x2="338.80" y2="209.00" stroke="#000" stroke-width="1.3" stroke-linecap="butt"/>
<text x="335.40" y="212.10" font-size="8.6" text-anchor="end" stroke="#000" stroke-width="0.56">80</text>
<line x1="336.50" y1="190.25" x2="338.80" y2="190.25" stroke="#000" stroke-width="1.3" stroke-linecap="butt"/>
<text x="335.40" y="193.35" font-size="8.6" text-anchor="end" stroke="#000" stroke-width="0.56">100</text>
<text x="307.00" y="237.00" font-size="9.8" text-anchor="middle" transform="rotate(-90 307.00 237.00)" textLength="86.50" lengthAdjust="spacingAndGlyphs" stroke="#000" stroke-width="0.64">% of gated platelets</text>
<text x="317.40" y="238.00" font-size="9.6" text-anchor="middle" transform="rotate(-90 317.40 238.00)" textLength="87.20" lengthAdjust="spacingAndGlyphs" stroke="#000" stroke-width="0.62">that are Annexin V+</text>
<rect x="347.20" y="177.60" width="8.10" height="8.40" fill="#000"/>
<text x="357.30" y="185.20" font-size="8.3" stroke="#000" stroke-width="0.54">WT</text>
<rect x="347.85" y="193.65" width="6.90" height="7.95" fill="#d0d0d0" stroke="#000" stroke-width="1.3"/>
<text x="357.80" y="200.50" font-size="8.3" stroke="#000" stroke-width="0.54">Rac1<tspan font-size="7.00" dy="-2.80">-/-</tspan></text>
<line x1="348.80" y1="250.20" x2="348.80" y2="245.00" stroke="#000" stroke-width="1.2" stroke-linecap="butt"/>
<line x1="345.90" y1="245.00" x2="351.70" y2="245.00" stroke="#000" stroke-width="1.2" stroke-linecap="butt"/>
<rect x="342.90" y="250.10" width="11.30" height="33.90" fill="#000"/>
<line x1="374.00" y1="247.50" x2="374.00" y2="242.20" stroke="#000" stroke-width="1.2" stroke-linecap="butt"/>
<line x1="371.20" y1="242.20" x2="376.80" y2="242.20" stroke="#000" stroke-width="1.2" stroke-linecap="butt"/>
<rect x="368.75" y="247.55" width="10.10" height="36.45" fill="#c8c8c8" stroke="#000" stroke-width="1.3"/>
<line x1="407.50" y1="217.30" x2="407.50" y2="210.80" stroke="#000" stroke-width="1.2" stroke-linecap="butt"/>
<line x1="404.60" y1="210.80" x2="410.40" y2="210.80" stroke="#000" stroke-width="1.2" stroke-linecap="butt"/>
<rect x="401.80" y="217.10" width="11.30" height="66.90" fill="#000"/>
<line x1="432.80" y1="216.60" x2="432.80" y2="212.00" stroke="#000" stroke-width="1.2" stroke-linecap="butt"/>
<line x1="430.00" y1="212.00" x2="435.60" y2="212.00" stroke="#000" stroke-width="1.2" stroke-linecap="butt"/>
<rect x="427.65" y="216.85" width="10.00" height="67.15" fill="#c8c8c8" stroke="#000" stroke-width="1.3"/>
<rect x="379.50" y="283.00" width="9.50" height="1.00" fill="#000"/>
<rect x="438.00" y="282.60" width="10.00" height="1.40" fill="#000"/>
<rect x="413.00" y="283.20" width="10.00" height="0.80" fill="#000"/>
<text x="353.70" y="235.47" font-size="15.57" text-anchor="middle" font-weight="bold" letter-spacing="0.99">***</text>
<text x="379.10" y="235.47" font-size="15.57" text-anchor="middle" font-weight="bold" letter-spacing="0.99">***</text>
<text x="412.10" y="205.27" font-size="15.57" text-anchor="middle" font-weight="bold" letter-spacing="0.99">***</text>
<text x="437.70" y="205.27" font-size="15.57" text-anchor="middle" font-weight="bold" letter-spacing="0.99">***</text>
<line x1="348.30" y1="233.00" x2="358.60" y2="233.00" stroke="#000" stroke-width="1.35" stroke-linecap="butt"/>
<line x1="348.98" y1="232.32" x2="348.98" y2="236.80" stroke="#000" stroke-width="1.35" stroke-linecap="butt"/>
<line x1="357.93" y1="232.32" x2="357.93" y2="236.80" stroke="#000" stroke-width="1.35" stroke-linecap="butt"/>
<line x1="374.00" y1="233.00" x2="384.40" y2="233.00" stroke="#000" stroke-width="1.35" stroke-linecap="butt"/>
<line x1="374.68" y1="232.32" x2="374.68" y2="236.80" stroke="#000" stroke-width="1.35" stroke-linecap="butt"/>
<line x1="383.72" y1="232.32" x2="383.72" y2="236.80" stroke="#000" stroke-width="1.35" stroke-linecap="butt"/>
<line x1="406.50" y1="202.20" x2="417.00" y2="202.20" stroke="#000" stroke-width="1.35" stroke-linecap="butt"/>
<line x1="407.18" y1="201.52" x2="407.18" y2="206.20" stroke="#000" stroke-width="1.35" stroke-linecap="butt"/>
<line x1="416.32" y1="201.52" x2="416.32" y2="206.20" stroke="#000" stroke-width="1.35" stroke-linecap="butt"/>
<line x1="432.40" y1="202.20" x2="443.00" y2="202.20" stroke="#000" stroke-width="1.35" stroke-linecap="butt"/>
<line x1="433.07" y1="201.52" x2="433.07" y2="206.20" stroke="#000" stroke-width="1.35" stroke-linecap="butt"/>
<line x1="442.32" y1="201.52" x2="442.32" y2="206.20" stroke="#000" stroke-width="1.35" stroke-linecap="butt"/>
<text x="339.00" y="296.50" font-size="10" text-anchor="end" stroke="#000" stroke-width="0.65">DMSO</text>
<text x="339.00" y="309.50" font-size="10" text-anchor="end" stroke="#000" stroke-width="0.65">Q-VD-OPh</text>
<text x="348.80" y="296.41" font-size="11.2" text-anchor="middle" stroke="#000" stroke-width="0.4">+</text>
<text x="348.80" y="309.46" font-size="12.59" text-anchor="middle" stroke="#000" stroke-width="0.29">-</text>
<text x="358.80" y="296.46" font-size="12.59" text-anchor="middle" stroke="#000" stroke-width="0.29">-</text>
<text x="358.80" y="309.61" font-size="11.2" text-anchor="middle" stroke="#000" stroke-width="0.4">+</text>
<text x="374.50" y="296.41" font-size="11.2" text-anchor="middle" stroke="#000" stroke-width="0.4">+</text>
<text x="374.50" y="309.46" font-size="12.59" text-anchor="middle" stroke="#000" stroke-width="0.29">-</text>
<text x="384.50" y="296.46" font-size="12.59" text-anchor="middle" stroke="#000" stroke-width="0.29">-</text>
<text x="384.50" y="309.61" font-size="11.2" text-anchor="middle" stroke="#000" stroke-width="0.4">+</text>
<text x="407.50" y="296.41" font-size="11.2" text-anchor="middle" stroke="#000" stroke-width="0.4">+</text>
<text x="407.50" y="309.46" font-size="12.59" text-anchor="middle" stroke="#000" stroke-width="0.29">-</text>
<text x="417.50" y="296.46" font-size="12.59" text-anchor="middle" stroke="#000" stroke-width="0.29">-</text>
<text x="417.50" y="309.61" font-size="11.2" text-anchor="middle" stroke="#000" stroke-width="0.4">+</text>
<text x="432.00" y="296.41" font-size="11.2" text-anchor="middle" stroke="#000" stroke-width="0.4">+</text>
<text x="432.00" y="309.46" font-size="12.59" text-anchor="middle" stroke="#000" stroke-width="0.29">-</text>
<text x="442.00" y="296.46" font-size="12.59" text-anchor="middle" stroke="#000" stroke-width="0.29">-</text>
<text x="442.00" y="309.61" font-size="11.2" text-anchor="middle" stroke="#000" stroke-width="0.4">+</text>
<line x1="343.00" y1="312.50" x2="387.50" y2="312.50" stroke="#000" stroke-width="1.2" stroke-linecap="butt"/>
<line x1="402.00" y1="312.50" x2="447.00" y2="312.50" stroke="#000" stroke-width="1.2" stroke-linecap="butt"/>
<text x="365.00" y="326.20" font-size="9.5" text-anchor="middle" stroke="#000" stroke-width="0.62">0.1 µM ABT</text>
<text x="424.90" y="326.20" font-size="9.5" text-anchor="middle" stroke="#000" stroke-width="0.62">1 µM ABT</text>
<text x="24.60" y="364.00" font-size="17.8" font-weight="bold" stroke="#000" stroke-width="0.4">D</text>
<text x="48.00" y="367.50" font-size="9.4" stroke="#000" stroke-width="0.61">Anti-FAS:</text>
<text x="123.50" y="367.80" font-size="9.5" text-anchor="middle" stroke="#000" stroke-width="0.62">0.1 µg/mL</text>
<text x="214.30" y="367.80" font-size="9.5" text-anchor="middle" stroke="#000" stroke-width="0.62">1 µg/mL</text>
<line x1="93.30" y1="371.40" x2="156.50" y2="371.40" stroke="#000" stroke-width="1.3" stroke-linecap="butt"/>
<line x1="183.00" y1="371.40" x2="244.60" y2="371.40" stroke="#000" stroke-width="1.3" stroke-linecap="butt"/>
<line x1="88.30" y1="379.60" x2="88.30" y2="430.80" stroke="#000" stroke-width="1.2" stroke-linecap="butt"/>
<line x1="87.70" y1="430.20" x2="155.10" y2="430.20" stroke="#222" stroke-width="1.0" stroke-linecap="butt"/>
<line x1="85.80" y1="396.20" x2="88.30" y2="396.20" stroke="#000" stroke-width="1.1" stroke-linecap="butt"/>
<line x1="86.70" y1="413.20" x2="88.30" y2="413.20" stroke="#000" stroke-width="0.8" stroke-linecap="butt"/>
<line x1="86.10" y1="380.10" x2="88.30" y2="380.10" stroke="#000" stroke-width="0.9" stroke-linecap="butt"/>
<text x="85.10" y="398.20" font-size="5.4" text-anchor="end" stroke="#000" stroke-width="0.35">80</text>
<text x="85.10" y="431.80" font-size="5.4" text-anchor="end" stroke="#000" stroke-width="0.35">0</text>
<line x1="88.30" y1="436.80" x2="88.30" y2="487.60" stroke="#000" stroke-width="1.2" stroke-linecap="butt"/>
<line x1="87.70" y1="487.00" x2="155.10" y2="487.00" stroke="#222" stroke-width="1.0" stroke-linecap="butt"/>
<line x1="85.80" y1="453.50" x2="88.30" y2="453.50" stroke="#000" stroke-width="1.1" stroke-linecap="butt"/>
<line x1="86.70" y1="470.25" x2="88.30" y2="470.25" stroke="#000" stroke-width="0.8" stroke-linecap="butt"/>
<line x1="86.10" y1="437.30" x2="88.30" y2="437.30" stroke="#000" stroke-width="0.9" stroke-linecap="butt"/>
<text x="85.10" y="455.50" font-size="5.4" text-anchor="end" stroke="#000" stroke-width="0.35">80</text>
<text x="85.10" y="488.60" font-size="5.4" text-anchor="end" stroke="#000" stroke-width="0.35">0</text>
<line x1="88.30" y1="494.20" x2="88.30" y2="545.60" stroke="#000" stroke-width="1.2" stroke-linecap="butt"/>
<line x1="87.70" y1="545.00" x2="155.10" y2="545.00" stroke="#222" stroke-width="1.0" stroke-linecap="butt"/>
<line x1="85.80" y1="511.00" x2="88.30" y2="511.00" stroke="#000" stroke-width="1.1" stroke-linecap="butt"/>
<line x1="86.70" y1="528.00" x2="88.30" y2="528.00" stroke="#000" stroke-width="0.8" stroke-linecap="butt"/>
<line x1="86.10" y1="494.70" x2="88.30" y2="494.70" stroke="#000" stroke-width="0.9" stroke-linecap="butt"/>
<text x="85.10" y="513.00" font-size="5.4" text-anchor="end" stroke="#000" stroke-width="0.35">80</text>
<text x="85.10" y="546.60" font-size="5.4" text-anchor="end" stroke="#000" stroke-width="0.35">0</text>
<line x1="179.40" y1="379.60" x2="179.40" y2="430.80" stroke="#000" stroke-width="1.2" stroke-linecap="butt"/>
<line x1="178.80" y1="430.20" x2="246.20" y2="430.20" stroke="#222" stroke-width="1.0" stroke-linecap="butt"/>
<line x1="176.90" y1="396.20" x2="179.40" y2="396.20" stroke="#000" stroke-width="1.1" stroke-linecap="butt"/>
<line x1="177.80" y1="413.20" x2="179.40" y2="413.20" stroke="#000" stroke-width="0.8" stroke-linecap="butt"/>
<line x1="177.20" y1="380.10" x2="179.40" y2="380.10" stroke="#000" stroke-width="0.9" stroke-linecap="butt"/>
<text x="176.20" y="398.20" font-size="5.4" text-anchor="end" stroke="#000" stroke-width="0.35">80</text>
<text x="176.20" y="431.80" font-size="5.4" text-anchor="end" stroke="#000" stroke-width="0.35">0</text>
<line x1="179.40" y1="436.80" x2="179.40" y2="487.60" stroke="#000" stroke-width="1.2" stroke-linecap="butt"/>
<line x1="178.80" y1="487.00" x2="246.20" y2="487.00" stroke="#222" stroke-width="1.0" stroke-linecap="butt"/>
<line x1="176.90" y1="453.50" x2="179.40" y2="453.50" stroke="#000" stroke-width="1.1" stroke-linecap="butt"/>
<line x1="177.80" y1="470.25" x2="179.40" y2="470.25" stroke="#000" stroke-width="0.8" stroke-linecap="butt"/>
<line x1="177.20" y1="437.30" x2="179.40" y2="437.30" stroke="#000" stroke-width="0.9" stroke-linecap="butt"/>
<text x="176.20" y="455.50" font-size="5.4" text-anchor="end" stroke="#000" stroke-width="0.35">80</text>
<text x="176.20" y="488.60" font-size="5.4" text-anchor="end" stroke="#000" stroke-width="0.35">0</text>
<line x1="179.40" y1="494.20" x2="179.40" y2="545.60" stroke="#000" stroke-width="1.2" stroke-linecap="butt"/>
<line x1="178.80" y1="545.00" x2="246.20" y2="545.00" stroke="#222" stroke-width="1.0" stroke-linecap="butt"/>
<line x1="176.90" y1="511.00" x2="179.40" y2="511.00" stroke="#000" stroke-width="1.1" stroke-linecap="butt"/>
<line x1="177.80" y1="528.00" x2="179.40" y2="528.00" stroke="#000" stroke-width="0.8" stroke-linecap="butt"/>
<line x1="177.20" y1="494.70" x2="179.40" y2="494.70" stroke="#000" stroke-width="0.9" stroke-linecap="butt"/>
<text x="176.20" y="513.00" font-size="5.4" text-anchor="end" stroke="#000" stroke-width="0.35">80</text>
<text x="176.20" y="546.60" font-size="5.4" text-anchor="end" stroke="#000" stroke-width="0.35">0</text>
<path d="M88.70,430.20 L88.70,429.92 L89.20,429.68 L89.70,429.48 L90.20,429.34 L90.70,429.11 L91.20,428.92 L91.70,428.69 L92.20,427.98 L92.70,426.94 L93.20,425.73 L93.70,423.80 L94.20,422.83 L94.70,421.23 L95.20,421.47 L95.70,420.15 L96.20,418.99 L96.70,419.03 L97.20,417.08 L97.70,416.32 L98.20,417.18 L98.70,416.44 L99.20,414.57 L99.70,412.86 L100.20,413.73 L100.70,413.81 L101.20,413.01 L101.70,413.68 L102.20,412.90 L102.70,412.05 L103.20,411.55 L103.70,411.85 L104.20,411.47 L104.70,411.12 L105.20,410.05 L105.70,410.06 L106.20,410.26 L106.70,407.16 L107.20,408.66 L107.70,409.04 L108.20,410.90 L108.70,409.19 L109.20,410.10 L109.70,412.58 L110.20,412.50 L110.70,411.99 L111.20,412.49 L111.70,412.44 L112.20,414.10 L112.70,413.73 L113.20,414.75 L113.70,416.15 L114.20,416.23 L114.70,416.34 L115.20,417.09 L115.70,418.33 L116.20,418.84 L116.70,420.32 L117.20,420.63 L117.70,420.54 L118.20,421.67 L118.70,422.68 L119.20,423.05 L119.70,423.70 L120.20,424.53 L120.70,425.52 L121.20,426.25 L121.70,427.00 L122.20,427.17 L122.70,427.56 L123.20,427.88 L123.70,428.13 L124.20,428.44 L124.70,428.46 L125.20,428.32 L125.70,428.27 L126.20,428.40 L126.70,428.48 L127.20,428.56 L127.70,428.51 L128.20,428.43 L128.70,428.50 L129.20,428.59 L129.70,428.47 L130.20,428.57 L130.70,428.44 L131.20,428.28 L131.70,428.32 L132.20,428.29 L132.70,428.29 L133.20,428.16 L133.70,427.99 L134.20,428.21 L134.70,427.92 L135.20,427.27 L135.70,426.46 L136.20,425.76 L136.70,424.93 L137.20,424.00 L137.70,422.23 L138.20,420.67 L138.70,419.45 L139.20,415.73 L139.70,414.85 L140.20,417.55 L140.70,419.19 L141.20,421.72 L141.70,423.95 L142.20,425.49 L142.70,426.93 L143.20,428.28 L143.70,428.87 L144.20,429.47 L144.70,429.75 L145.20,429.76 L145.70,429.79 L146.20,429.79 L146.70,429.80 L147.20,429.83 L147.70,429.85 L148.20,429.88 L148.70,429.93 L149.20,429.93 L149.70,429.96 L150.20,430.01 L150.30,430.20 Z" fill="#000"/>
<path d="M88.90,487.00 L88.90,486.85 L89.40,486.85 L89.90,486.85 L90.40,486.85 L90.90,486.85 L91.40,486.85 L91.90,486.80 L92.40,486.73 L92.90,486.60 L93.40,486.46 L93.90,486.27 L94.40,486.08 L94.90,485.73 L95.40,485.34 L95.90,484.74 L96.40,483.99 L96.90,483.21 L97.40,482.55 L97.90,481.59 L98.40,480.58 L98.90,479.54 L99.40,478.11 L99.90,475.71 L100.40,474.14 L100.90,472.02 L101.40,468.49 L101.90,467.27 L102.40,464.88 L102.90,463.86 L103.40,462.66 L103.90,459.38 L104.40,458.45 L104.90,454.96 L105.40,450.94 L105.90,451.55 L106.40,453.54 L106.90,449.10 L107.40,449.60 L107.90,450.29 L108.40,450.01 L108.90,451.82 L109.40,452.99 L109.90,456.72 L110.40,455.44 L110.90,457.51 L111.40,462.87 L111.90,462.50 L112.40,464.64 L112.90,467.36 L113.40,468.90 L113.90,470.65 L114.40,471.11 L114.90,473.49 L115.40,474.07 L115.90,476.08 L116.40,476.18 L116.90,477.07 L117.40,478.49 L117.90,479.03 L118.40,479.23 L118.90,480.01 L119.40,480.75 L119.90,481.44 L120.40,481.74 L120.90,481.79 L121.40,482.55 L121.90,482.33 L122.40,483.05 L122.90,482.92 L123.40,483.52 L123.90,483.37 L124.40,483.69 L124.90,483.93 L125.40,484.03 L125.90,484.03 L126.40,484.09 L126.90,484.21 L127.40,484.22 L127.90,484.02 L128.40,483.75 L128.90,483.85 L129.40,484.08 L129.90,483.71 L130.40,483.81 L130.90,483.81 L131.40,484.27 L131.90,484.17 L132.40,484.63 L132.90,484.57 L133.40,484.91 L133.90,485.13 L134.40,485.15 L134.90,485.56 L135.40,485.66 L135.90,485.79 L136.40,486.07 L136.90,486.23 L137.40,486.29 L137.90,486.46 L138.40,486.55 L138.90,486.68 L139.40,486.73 L139.90,486.80 L140.40,486.83 L140.90,486.85 L141.40,486.85 L141.90,486.85 L142.40,486.85 L142.90,486.85 L143.40,486.85 L143.90,486.85 L144.40,486.85 L144.90,486.85 L145.40,486.85 L145.90,486.85 L146.00,487.00 Z" fill="#000"/>
<path d="M88.90,545.00 L88.90,543.46 L89.40,543.09 L89.90,542.84 L90.40,542.39 L90.90,542.00 L91.40,541.92 L91.90,541.55 L92.40,540.50 L92.90,540.49 L93.40,540.04 L93.90,538.79 L94.40,538.84 L94.90,537.91 L95.40,537.86 L95.90,537.18 L96.40,537.43 L96.90,536.29 L97.40,535.49 L97.90,535.66 L98.40,534.91 L98.90,534.68 L99.40,535.47 L99.90,533.85 L100.40,533.88 L100.90,534.19 L101.40,534.50 L101.90,532.53 L102.40,533.15 L102.90,532.44 L103.40,531.93 L103.90,532.17 L104.40,531.63 L104.90,532.77 L105.40,531.85 L105.90,532.70 L106.40,531.70 L106.90,531.97 L107.40,533.85 L107.90,533.98 L108.40,534.06 L108.90,532.83 L109.40,534.24 L109.90,534.24 L110.40,535.23 L110.90,535.26 L111.40,535.88 L111.90,536.36 L112.40,536.43 L112.90,536.87 L113.40,536.88 L113.90,537.62 L114.40,537.74 L114.90,538.26 L115.40,538.52 L115.90,539.24 L116.40,540.08 L116.90,539.78 L117.40,540.02 L117.90,540.39 L118.40,540.93 L118.90,541.09 L119.40,541.66 L119.90,541.51 L120.40,541.88 L120.90,542.24 L121.40,542.53 L121.90,542.33 L122.40,542.45 L122.90,542.97 L123.40,542.83 L123.90,543.11 L124.40,543.31 L124.90,543.37 L125.40,543.34 L125.90,543.42 L126.40,543.73 L126.90,543.68 L127.40,543.89 L127.90,543.83 L128.40,543.99 L128.90,543.96 L129.40,544.02 L129.90,544.15 L130.40,544.09 L130.90,544.14 L131.40,543.99 L131.90,543.43 L132.40,542.81 L132.90,541.39 L133.40,539.18 L133.90,536.16 L134.40,533.90 L134.90,531.28 L135.40,526.40 L135.90,526.83 L136.40,524.64 L136.90,526.05 L137.40,529.70 L137.90,532.03 L138.40,534.61 L138.90,536.92 L139.40,539.08 L139.90,540.72 L140.40,541.86 L140.90,542.57 L141.40,543.33 L141.90,543.76 L142.40,544.02 L142.90,544.33 L143.00,545.00 Z" fill="#000"/>
<path d="M179.80,430.20 L179.80,429.44 L180.30,429.34 L180.80,429.16 L181.30,429.05 L181.80,428.91 L182.30,428.62 L182.80,428.24 L183.30,428.02 L183.80,427.75 L184.30,427.71 L184.80,427.25 L185.30,427.07 L185.80,426.81 L186.30,426.52 L186.80,426.08 L187.30,425.12 L187.80,424.79 L188.30,424.39 L188.80,423.99 L189.30,424.27 L189.80,423.77 L190.30,423.01 L190.80,422.51 L191.30,421.99 L191.80,421.60 L192.30,422.47 L192.80,421.39 L193.30,421.01 L193.80,421.02 L194.30,421.33 L194.80,420.60 L195.30,421.07 L195.80,419.34 L196.30,419.26 L196.80,419.65 L197.30,419.94 L197.80,418.58 L198.30,419.06 L198.80,418.27 L199.30,418.18 L199.80,418.72 L200.30,418.78 L200.80,418.27 L201.30,418.52 L201.80,419.00 L202.30,418.62 L202.80,417.47 L203.30,419.11 L203.80,419.09 L204.30,417.85 L204.80,418.64 L205.30,418.17 L205.80,418.41 L206.30,418.83 L206.80,417.64 L207.30,419.50 L207.80,419.28 L208.30,419.95 L208.80,419.41 L209.30,420.38 L209.80,420.55 L210.30,420.22 L210.80,421.30 L211.30,421.27 L211.80,421.12 L212.30,422.69 L212.80,423.08 L213.30,423.18 L213.80,422.82 L214.30,423.32 L214.80,424.04 L215.30,424.16 L215.80,424.50 L216.30,424.32 L216.80,424.82 L217.30,424.13 L217.80,423.83 L218.30,423.59 L218.80,423.58 L219.30,422.98 L219.80,423.76 L220.30,422.97 L220.80,421.45 L221.30,420.97 L221.80,420.49 L222.30,417.63 L222.80,415.27 L223.30,409.76 L223.80,405.14 L224.30,397.91 L224.80,388.26 L225.30,384.92 L225.80,380.91 L226.30,378.99 L226.80,391.36 L227.30,402.22 L227.80,410.56 L228.30,417.29 L228.80,421.54 L229.30,425.58 L229.80,427.61 L230.30,428.76 L230.80,429.21 L231.30,429.65 L231.80,429.87 L232.00,430.20 Z" fill="#000"/>
<path d="M179.80,487.00 L179.80,486.85 L180.30,486.85 L180.80,486.85 L181.30,486.85 L181.80,486.85 L182.30,486.85 L182.80,486.82 L183.30,486.73 L183.80,486.61 L184.30,486.49 L184.80,486.29 L185.30,486.17 L185.80,485.84 L186.30,485.55 L186.80,485.05 L187.30,484.51 L187.80,484.15 L188.30,483.33 L188.80,482.44 L189.30,480.86 L189.80,479.78 L190.30,479.19 L190.80,476.80 L191.30,476.29 L191.80,473.63 L192.30,472.90 L192.80,471.39 L193.30,466.88 L193.80,466.93 L194.30,464.97 L194.80,460.00 L195.30,458.44 L195.80,459.28 L196.30,454.52 L196.80,455.22 L197.30,453.41 L197.80,455.12 L198.30,450.64 L198.80,451.79 L199.30,450.39 L199.80,451.21 L200.30,455.07 L200.80,455.64 L201.30,457.74 L201.80,459.10 L202.30,460.88 L202.80,461.40 L203.30,461.86 L203.80,465.85 L204.30,465.16 L204.80,467.94 L205.30,469.56 L205.80,469.65 L206.30,471.91 L206.80,473.52 L207.30,474.29 L207.80,474.89 L208.30,476.95 L208.80,476.25 L209.30,478.44 L209.80,478.05 L210.30,478.53 L210.80,480.07 L211.30,479.63 L211.80,480.51 L212.30,480.66 L212.80,481.53 L213.30,481.76 L213.80,481.88 L214.30,481.45 L214.80,482.25 L215.30,481.96 L215.80,481.95 L216.30,482.05 L216.80,482.56 L217.30,482.61 L217.80,482.53 L218.30,482.39 L218.80,482.90 L219.30,482.50 L219.80,482.53 L220.30,482.58 L220.80,483.23 L221.30,482.79 L221.80,483.47 L222.30,483.49 L222.80,483.52 L223.30,483.56 L223.80,484.06 L224.30,484.01 L224.80,484.40 L225.30,484.71 L225.80,484.92 L226.30,485.17 L226.80,485.39 L227.30,485.56 L227.80,485.62 L228.30,485.74 L228.80,486.05 L229.30,486.20 L229.80,486.22 L230.30,486.39 L230.80,486.50 L231.30,486.60 L231.80,486.65 L232.30,486.71 L232.80,486.78 L233.00,487.00 Z" fill="#000"/>
<path d="M179.80,545.00 L179.80,544.59 L180.30,544.53 L180.80,544.50 L181.30,544.46 L181.80,544.42 L182.30,544.26 L182.80,544.20 L183.30,544.06 L183.80,544.03 L184.30,543.84 L184.80,543.83 L185.30,543.59 L185.80,543.47 L186.30,543.41 L186.80,543.23 L187.30,543.02 L187.80,543.04 L188.30,542.73 L188.80,542.45 L189.30,542.51 L189.80,542.06 L190.30,541.93 L190.80,541.64 L191.30,541.74 L191.80,541.70 L192.30,541.05 L192.80,540.84 L193.30,540.90 L193.80,540.99 L194.30,540.74 L194.80,540.21 L195.30,540.34 L195.80,539.59 L196.30,539.77 L196.80,540.00 L197.30,539.45 L197.80,539.63 L198.30,538.96 L198.80,538.90 L199.30,539.25 L199.80,539.07 L200.30,538.99 L200.80,538.86 L201.30,538.69 L201.80,539.70 L202.30,539.39 L202.80,539.19 L203.30,539.55 L203.80,539.34 L204.30,539.91 L204.80,539.23 L205.30,539.68 L205.80,540.17 L206.30,539.77 L206.80,540.20 L207.30,540.42 L207.80,540.29 L208.30,540.70 L208.80,540.76 L209.30,540.36 L209.80,540.61 L210.30,541.24 L210.80,540.79 L211.30,541.43 L211.80,541.31 L212.30,541.01 L212.80,541.27 L213.30,541.52 L213.80,541.50 L214.30,541.48 L214.80,541.61 L215.30,540.94 L215.80,541.44 L216.30,541.00 L216.80,540.51 L217.30,540.48 L217.80,539.60 L218.30,539.83 L218.80,538.43 L219.30,537.43 L219.80,535.81 L220.30,531.92 L220.80,527.58 L221.30,518.37 L221.80,509.30 L222.30,503.15 L222.80,499.17 L223.30,498.12 L223.80,506.08 L224.30,516.34 L224.80,522.26 L225.30,531.68 L225.80,536.81 L226.30,540.17 L226.80,542.62 L227.30,543.70 L227.80,544.23 L228.30,544.49 L228.80,544.70 L229.30,544.82 L229.80,544.85 L230.00,545.00 Z" fill="#000"/>
<text x="153.60" y="389.20" font-size="7.8" text-anchor="end" stroke="#000" stroke-width="0.5">DMSO</text>
<text x="153.80" y="446.40" font-size="7.8" text-anchor="end" stroke="#000" stroke-width="0.5">Q-VD-OPh</text>
<text x="153.80" y="503.80" font-size="7.8" text-anchor="end" stroke="#000" stroke-width="0.5">NSC23766</text>
<text x="182.70" y="389.20" font-size="7.8" stroke="#000" stroke-width="0.5">DMSO</text>
<text x="244.60" y="446.40" font-size="7.8" text-anchor="end" stroke="#000" stroke-width="0.5">Q-VD-OPh</text>
<text x="182.00" y="503.80" font-size="7.8" stroke="#000" stroke-width="0.5">NSC23766</text>
<line x1="88.70" y1="545.00" x2="88.70" y2="548.00" stroke="#000" stroke-width="0.9" stroke-linecap="butt"/>
<line x1="93.73" y1="545.00" x2="93.73" y2="546.60" stroke="#000" stroke-width="0.5" stroke-linecap="butt"/>
<line x1="96.67" y1="545.00" x2="96.67" y2="546.60" stroke="#000" stroke-width="0.5" stroke-linecap="butt"/>
<line x1="98.75" y1="545.00" x2="98.75" y2="546.60" stroke="#000" stroke-width="0.5" stroke-linecap="butt"/>
<line x1="100.37" y1="545.00" x2="100.37" y2="546.60" stroke="#000" stroke-width="0.5" stroke-linecap="butt"/>
<line x1="101.70" y1="545.00" x2="101.70" y2="546.60" stroke="#000" stroke-width="0.5" stroke-linecap="butt"/>
<line x1="102.81" y1="545.00" x2="102.81" y2="546.60" stroke="#000" stroke-width="0.5" stroke-linecap="butt"/>
<line x1="103.78" y1="545.00" x2="103.78" y2="546.60" stroke="#000" stroke-width="0.5" stroke-linecap="butt"/>
<line x1="104.64" y1="545.00" x2="104.64" y2="546.60" stroke="#000" stroke-width="0.5" stroke-linecap="butt"/>
<line x1="105.40" y1="545.00" x2="105.40" y2="548.00" stroke="#000" stroke-width="0.9" stroke-linecap="butt"/>
<text x="104.80" y="555.2" font-size="5.5" text-anchor="middle" stroke="#000" stroke-width="0.45">10<tspan font-size="4" dy="-2.3">1</tspan></text>
<line x1="110.43" y1="545.00" x2="110.43" y2="546.60" stroke="#000" stroke-width="0.5" stroke-linecap="butt"/>
<line x1="113.37" y1="545.00" x2="113.37" y2="546.60" stroke="#000" stroke-width="0.5" stroke-linecap="butt"/>
<line x1="115.45" y1="545.00" x2="115.45" y2="546.60" stroke="#000" stroke-width="0.5" stroke-linecap="butt"/>
<line x1="117.07" y1="545.00" x2="117.07" y2="546.60" stroke="#000" stroke-width="0.5" stroke-linecap="butt"/>
<line x1="118.40" y1="545.00" x2="118.40" y2="546.60" stroke="#000" stroke-width="0.5" stroke-linecap="butt"/>
<line x1="119.51" y1="545.00" x2="119.51" y2="546.60" stroke="#000" stroke-width="0.5" stroke-linecap="butt"/>
<line x1="120.48" y1="545.00" x2="120.48" y2="546.60" stroke="#000" stroke-width="0.5" stroke-linecap="butt"/>
<line x1="121.34" y1="545.00" x2="121.34" y2="546.60" stroke="#000" stroke-width="0.5" stroke-linecap="butt"/>
<line x1="122.10" y1="545.00" x2="122.10" y2="548.00" stroke="#000" stroke-width="0.9" stroke-linecap="butt"/>
<text x="121.50" y="555.2" font-size="5.5" text-anchor="middle" stroke="#000" stroke-width="0.45">10<tspan font-size="4" dy="-2.3">2</tspan></text>
<line x1="127.13" y1="545.00" x2="127.13" y2="546.60" stroke="#000" stroke-width="0.5" stroke-linecap="butt"/>
<line x1="130.07" y1="545.00" x2="130.07" y2="546.60" stroke="#000" stroke-width="0.5" stroke-linecap="butt"/>
<line x1="132.15" y1="545.00" x2="132.15" y2="546.60" stroke="#000" stroke-width="0.5" stroke-linecap="butt"/>
<line x1="133.77" y1="545.00" x2="133.77" y2="546.60" stroke="#000" stroke-width="0.5" stroke-linecap="butt"/>
<line x1="135.10" y1="545.00" x2="135.10" y2="546.60" stroke="#000" stroke-width="0.5" stroke-linecap="butt"/>
<line x1="136.21" y1="545.00" x2="136.21" y2="546.60" stroke="#000" stroke-width="0.5" stroke-linecap="butt"/>
<line x1="137.18" y1="545.00" x2="137.18" y2="546.60" stroke="#000" stroke-width="0.5" stroke-linecap="butt"/>
<line x1="138.04" y1="545.00" x2="138.04" y2="546.60" stroke="#000" stroke-width="0.5" stroke-linecap="butt"/>
<line x1="138.80" y1="545.00" x2="138.80" y2="548.00" stroke="#000" stroke-width="0.9" stroke-linecap="butt"/>
<text x="138.20" y="555.2" font-size="5.5" text-anchor="middle" stroke="#000" stroke-width="0.45">10<tspan font-size="4" dy="-2.3">3</tspan></text>
<line x1="143.83" y1="545.00" x2="143.83" y2="546.60" stroke="#000" stroke-width="0.5" stroke-linecap="butt"/>
<line x1="146.77" y1="545.00" x2="146.77" y2="546.60" stroke="#000" stroke-width="0.5" stroke-linecap="butt"/>
<line x1="148.85" y1="545.00" x2="148.85" y2="546.60" stroke="#000" stroke-width="0.5" stroke-linecap="butt"/>
<line x1="150.47" y1="545.00" x2="150.47" y2="546.60" stroke="#000" stroke-width="0.5" stroke-linecap="butt"/>
<line x1="151.80" y1="545.00" x2="151.80" y2="546.60" stroke="#000" stroke-width="0.5" stroke-linecap="butt"/>
<line x1="152.91" y1="545.00" x2="152.91" y2="546.60" stroke="#000" stroke-width="0.5" stroke-linecap="butt"/>
<line x1="153.88" y1="545.00" x2="153.88" y2="546.60" stroke="#000" stroke-width="0.5" stroke-linecap="butt"/>
<line x1="154.74" y1="545.00" x2="154.74" y2="546.60" stroke="#000" stroke-width="0.5" stroke-linecap="butt"/>
<line x1="155.50" y1="545.00" x2="155.50" y2="548.00" stroke="#000" stroke-width="0.9" stroke-linecap="butt"/>
<text x="154.90" y="555.2" font-size="5.5" text-anchor="middle" stroke="#000" stroke-width="0.45">10<tspan font-size="4" dy="-2.3">4</tspan></text>
<text x="125.50" y="563.40" font-size="5.8" text-anchor="middle" textLength="46.00" lengthAdjust="spacingAndGlyphs" stroke="#000" stroke-width="0.4">Annexin V binding</text>
<line x1="179.80" y1="545.00" x2="179.80" y2="548.00" stroke="#000" stroke-width="0.9" stroke-linecap="butt"/>
<line x1="184.83" y1="545.00" x2="184.83" y2="546.60" stroke="#000" stroke-width="0.5" stroke-linecap="butt"/>
<line x1="187.77" y1="545.00" x2="187.77" y2="546.60" stroke="#000" stroke-width="0.5" stroke-linecap="butt"/>
<line x1="189.85" y1="545.00" x2="189.85" y2="546.60" stroke="#000" stroke-width="0.5" stroke-linecap="butt"/>
<line x1="191.47" y1="545.00" x2="191.47" y2="546.60" stroke="#000" stroke-width="0.5" stroke-linecap="butt"/>
<line x1="192.80" y1="545.00" x2="192.80" y2="546.60" stroke="#000" stroke-width="0.5" stroke-linecap="butt"/>
<line x1="193.91" y1="545.00" x2="193.91" y2="546.60" stroke="#000" stroke-width="0.5" stroke-linecap="butt"/>
<line x1="194.88" y1="545.00" x2="194.88" y2="546.60" stroke="#000" stroke-width="0.5" stroke-linecap="butt"/>
<line x1="195.74" y1="545.00" x2="195.74" y2="546.60" stroke="#000" stroke-width="0.5" stroke-linecap="butt"/>
<line x1="196.50" y1="545.00" x2="196.50" y2="548.00" stroke="#000" stroke-width="0.9" stroke-linecap="butt"/>
<text x="195.90" y="555.2" font-size="5.5" text-anchor="middle" stroke="#000" stroke-width="0.45">10<tspan font-size="4" dy="-2.3">1</tspan></text>
<line x1="201.53" y1="545.00" x2="201.53" y2="546.60" stroke="#000" stroke-width="0.5" stroke-linecap="butt"/>
<line x1="204.47" y1="545.00" x2="204.47" y2="546.60" stroke="#000" stroke-width="0.5" stroke-linecap="butt"/>
<line x1="206.55" y1="545.00" x2="206.55" y2="546.60" stroke="#000" stroke-width="0.5" stroke-linecap="butt"/>
<line x1="208.17" y1="545.00" x2="208.17" y2="546.60" stroke="#000" stroke-width="0.5" stroke-linecap="butt"/>
<line x1="209.50" y1="545.00" x2="209.50" y2="546.60" stroke="#000" stroke-width="0.5" stroke-linecap="butt"/>
<line x1="210.61" y1="545.00" x2="210.61" y2="546.60" stroke="#000" stroke-width="0.5" stroke-linecap="butt"/>
<line x1="211.58" y1="545.00" x2="211.58" y2="546.60" stroke="#000" stroke-width="0.5" stroke-linecap="butt"/>
<line x1="212.44" y1="545.00" x2="212.44" y2="546.60" stroke="#000" stroke-width="0.5" stroke-linecap="butt"/>
<line x1="213.20" y1="545.00" x2="213.20" y2="548.00" stroke="#000" stroke-width="0.9" stroke-linecap="butt"/>
<text x="212.60" y="555.2" font-size="5.5" text-anchor="middle" stroke="#000" stroke-width="0.45">10<tspan font-size="4" dy="-2.3">2</tspan></text>
<line x1="218.23" y1="545.00" x2="218.23" y2="546.60" stroke="#000" stroke-width="0.5" stroke-linecap="butt"/>
<line x1="221.17" y1="545.00" x2="221.17" y2="546.60" stroke="#000" stroke-width="0.5" stroke-linecap="butt"/>
<line x1="223.25" y1="545.00" x2="223.25" y2="546.60" stroke="#000" stroke-width="0.5" stroke-linecap="butt"/>
<line x1="224.87" y1="545.00" x2="224.87" y2="546.60" stroke="#000" stroke-width="0.5" stroke-linecap="butt"/>
<line x1="226.20" y1="545.00" x2="226.20" y2="546.60" stroke="#000" stroke-width="0.5" stroke-linecap="butt"/>
<line x1="227.31" y1="545.00" x2="227.31" y2="546.60" stroke="#000" stroke-width="0.5" stroke-linecap="butt"/>
<line x1="228.28" y1="545.00" x2="228.28" y2="546.60" stroke="#000" stroke-width="0.5" stroke-linecap="butt"/>
<line x1="229.14" y1="545.00" x2="229.14" y2="546.60" stroke="#000" stroke-width="0.5" stroke-linecap="butt"/>
<line x1="229.90" y1="545.00" x2="229.90" y2="548.00" stroke="#000" stroke-width="0.9" stroke-linecap="butt"/>
<text x="229.30" y="555.2" font-size="5.5" text-anchor="middle" stroke="#000" stroke-width="0.45">10<tspan font-size="4" dy="-2.3">3</tspan></text>
<line x1="234.93" y1="545.00" x2="234.93" y2="546.60" stroke="#000" stroke-width="0.5" stroke-linecap="butt"/>
<line x1="237.87" y1="545.00" x2="237.87" y2="546.60" stroke="#000" stroke-width="0.5" stroke-linecap="butt"/>
<line x1="239.95" y1="545.00" x2="239.95" y2="546.60" stroke="#000" stroke-width="0.5" stroke-linecap="butt"/>
<line x1="241.57" y1="545.00" x2="241.57" y2="546.60" stroke="#000" stroke-width="0.5" stroke-linecap="butt"/>
<line x1="242.90" y1="545.00" x2="242.90" y2="546.60" stroke="#000" stroke-width="0.5" stroke-linecap="butt"/>
<line x1="244.01" y1="545.00" x2="244.01" y2="546.60" stroke="#000" stroke-width="0.5" stroke-linecap="butt"/>
<line x1="244.98" y1="545.00" x2="244.98" y2="546.60" stroke="#000" stroke-width="0.5" stroke-linecap="butt"/>
<line x1="245.84" y1="545.00" x2="245.84" y2="546.60" stroke="#000" stroke-width="0.5" stroke-linecap="butt"/>
<line x1="246.60" y1="545.00" x2="246.60" y2="548.00" stroke="#000" stroke-width="0.9" stroke-linecap="butt"/>
<text x="246.00" y="555.2" font-size="5.5" text-anchor="middle" stroke="#000" stroke-width="0.45">10<tspan font-size="4" dy="-2.3">4</tspan></text>
<text x="216.60" y="563.40" font-size="5.8" text-anchor="middle" textLength="46.00" lengthAdjust="spacingAndGlyphs" stroke="#000" stroke-width="0.4">Annexin V binding</text>
<text x="278.80" y="364.00" font-size="17.8" font-weight="bold" stroke="#000" stroke-width="0.4">E</text>
<line x1="340.70" y1="406.40" x2="340.70" y2="526.00" stroke="#000" stroke-width="1.4" stroke-linecap="butt"/>
<line x1="340.70" y1="525.40" x2="472.50" y2="525.40" stroke="#000" stroke-width="1.3" stroke-linecap="butt"/>
<line x1="336.80" y1="525.40" x2="340.70" y2="525.40" stroke="#000" stroke-width="1.3" stroke-linecap="butt"/>
<text x="335.60" y="528.80" font-size="9.7" text-anchor="end" stroke="#000" stroke-width="0.63">0</text>
<line x1="336.80" y1="495.80" x2="340.70" y2="495.80" stroke="#000" stroke-width="1.3" stroke-linecap="butt"/>
<text x="335.60" y="499.20" font-size="9.7" text-anchor="end" stroke="#000" stroke-width="0.63">4</text>
<line x1="336.80" y1="466.20" x2="340.70" y2="466.20" stroke="#000" stroke-width="1.3" stroke-linecap="butt"/>
<text x="335.60" y="469.60" font-size="9.7" text-anchor="end" stroke="#000" stroke-width="0.63">8</text>
<line x1="336.80" y1="436.60" x2="340.70" y2="436.60" stroke="#000" stroke-width="1.3" stroke-linecap="butt"/>
<text x="335.60" y="440.00" font-size="9.7" text-anchor="end" stroke="#000" stroke-width="0.63">12</text>
<line x1="336.80" y1="407.00" x2="340.70" y2="407.00" stroke="#000" stroke-width="1.3" stroke-linecap="butt"/>
<text x="335.60" y="410.40" font-size="9.7" text-anchor="end" stroke="#000" stroke-width="0.63">16</text>
<text x="306.00" y="463.30" font-size="9.9" text-anchor="middle" transform="rotate(-90 306.00 463.30)" textLength="80.00" lengthAdjust="spacingAndGlyphs" stroke="#000" stroke-width="0.64">Annexin V binding</text>
<text x="318.20" y="463.70" font-size="9.7" text-anchor="middle" transform="rotate(-90 318.20 463.70)" textLength="66.00" lengthAdjust="spacingAndGlyphs" stroke="#000" stroke-width="0.63">(Fold Increase)</text>
<rect x="352.20" y="382.40" width="8.00" height="8.00" fill="#000"/>
<rect x="352.70" y="395.20" width="7.00" height="7.50" fill="#c8c8c8" stroke="#000" stroke-width="1"/>
<rect x="352.75" y="407.85" width="6.90" height="7.45" fill="#fff" stroke="#000" stroke-width="1.1"/>
<text x="362.80" y="389.60" font-size="7.7" stroke="#000" stroke-width="0.5">DMSO</text>
<text x="362.80" y="401.90" font-size="7.7" stroke="#000" stroke-width="0.5">NSC23766</text>
<text x="362.80" y="414.50" font-size="7.7" stroke="#000" stroke-width="0.5">Q-VD-OPh</text>
<rect x="347.00" y="518.00" width="13.00" height="7.40" fill="#000"/>
<line x1="383.20" y1="482.00" x2="383.20" y2="475.40" stroke="#000" stroke-width="1.2" stroke-linecap="butt"/>
<line x1="379.95" y1="475.40" x2="386.45" y2="475.40" stroke="#000" stroke-width="1.2" stroke-linecap="butt"/>
<rect x="377.00" y="482.00" width="12.40" height="43.40" fill="#000"/>
<line x1="395.60" y1="466.30" x2="395.60" y2="463.20" stroke="#000" stroke-width="1.2" stroke-linecap="butt"/>
<line x1="392.35" y1="463.20" x2="398.85" y2="463.20" stroke="#000" stroke-width="1.2" stroke-linecap="butt"/>
<rect x="389.95" y="466.85" width="11.30" height="58.55" fill="#c8c8c8" stroke="#000" stroke-width="1.1"/>
<line x1="407.80" y1="514.50" x2="407.80" y2="513.70" stroke="#000" stroke-width="1.0" stroke-linecap="butt"/>
<line x1="404.55" y1="513.70" x2="411.05" y2="513.70" stroke="#000" stroke-width="1.0" stroke-linecap="butt"/>
<rect x="402.35" y="515.05" width="10.90" height="10.35" fill="#fff" stroke="#000" stroke-width="1.1"/>
<line x1="440.00" y1="438.00" x2="440.00" y2="435.50" stroke="#000" stroke-width="1.2" stroke-linecap="butt"/>
<line x1="436.75" y1="435.50" x2="443.25" y2="435.50" stroke="#000" stroke-width="1.2" stroke-linecap="butt"/>
<rect x="433.80" y="438.00" width="12.40" height="87.40" fill="#000"/>
<line x1="452.10" y1="419.50" x2="452.10" y2="417.00" stroke="#000" stroke-width="1.2" stroke-linecap="butt"/>
<line x1="448.85" y1="417.00" x2="455.35" y2="417.00" stroke="#000" stroke-width="1.2" stroke-linecap="butt"/>
<rect x="446.75" y="420.05" width="10.70" height="105.35" fill="#c8c8c8" stroke="#000" stroke-width="1.1"/>
<line x1="464.00" y1="510.00" x2="464.00" y2="509.00" stroke="#000" stroke-width="1.0" stroke-linecap="butt"/>
<line x1="460.75" y1="509.00" x2="467.25" y2="509.00" stroke="#000" stroke-width="1.0" stroke-linecap="butt"/>
<rect x="458.55" y="510.55" width="10.90" height="14.85" fill="#fff" stroke="#000" stroke-width="1.1"/>
<text x="396.93" y="447.14" font-size="14.85" text-anchor="middle" font-weight="bold" letter-spacing="1.26">**</text>
<line x1="381.90" y1="444.20" x2="410.20" y2="444.20" stroke="#000" stroke-width="1.35" stroke-linecap="butt"/>
<line x1="382.57" y1="443.52" x2="382.57" y2="448.00" stroke="#000" stroke-width="1.35" stroke-linecap="butt"/>
<line x1="409.52" y1="443.52" x2="409.52" y2="448.00" stroke="#000" stroke-width="1.35" stroke-linecap="butt"/>
<text x="389.40" y="460.34" font-size="14.85" text-anchor="middle" font-weight="bold" letter-spacing="0.00">*</text>
<line x1="381.90" y1="456.80" x2="396.90" y2="456.80" stroke="#000" stroke-width="1.35" stroke-linecap="butt"/>
<line x1="382.57" y1="456.12" x2="382.57" y2="460.60" stroke="#000" stroke-width="1.35" stroke-linecap="butt"/>
<line x1="396.22" y1="456.12" x2="396.22" y2="460.60" stroke="#000" stroke-width="1.35" stroke-linecap="butt"/>
<text x="451.47" y="398.94" font-size="14.85" text-anchor="middle" font-weight="bold" letter-spacing="0.95">***</text>
<line x1="436.90" y1="396.10" x2="465.40" y2="396.10" stroke="#000" stroke-width="1.35" stroke-linecap="butt"/>
<line x1="437.57" y1="395.43" x2="437.57" y2="400.20" stroke="#000" stroke-width="1.35" stroke-linecap="butt"/>
<line x1="464.72" y1="395.43" x2="464.72" y2="400.20" stroke="#000" stroke-width="1.35" stroke-linecap="butt"/>
<text x="444.60" y="412.44" font-size="14.85" text-anchor="middle" font-weight="bold" letter-spacing="0.00">*</text>
<line x1="436.90" y1="408.40" x2="452.10" y2="408.40" stroke="#000" stroke-width="1.35" stroke-linecap="butt"/>
<line x1="437.57" y1="407.72" x2="437.57" y2="412.50" stroke="#000" stroke-width="1.35" stroke-linecap="butt"/>
<line x1="451.43" y1="407.72" x2="451.43" y2="412.50" stroke="#000" stroke-width="1.35" stroke-linecap="butt"/>
<text x="282.00" y="540.50" font-size="7.7" textLength="62.50" lengthAdjust="spacingAndGlyphs" stroke="#000" stroke-width="0.45">Anti-FAS (µg/mL):</text>
<text x="353.80" y="540.30" font-size="9.3" text-anchor="middle" stroke="#000" stroke-width="0.6">0</text>
<text x="395.80" y="540.30" font-size="9.3" text-anchor="middle" stroke="#000" stroke-width="0.6">0.1</text>
<text x="451.60" y="540.30" font-size="9.3" text-anchor="middle" stroke="#000" stroke-width="0.6">1</text>
<text x="24.40" y="587.50" font-size="17.8" font-weight="bold" stroke="#000" stroke-width="0.4">F</text>
<rect x="65.90" y="584.50" width="12.10" height="11.10" fill="#000"/>
<text x="83.10" y="594.00" font-size="12.5" stroke="#000" stroke-width="0.6">WT</text>
<rect x="66.65" y="604.25" width="10.60" height="10.45" fill="#c8c8c8" stroke="#000" stroke-width="1.5"/>
<text x="83.10" y="613.50" font-size="12.5" stroke="#000" stroke-width="0.60">Rac1<tspan font-size="9.00" dy="-4.60">-/-</tspan></text>
<line x1="57.60" y1="617.75" x2="57.60" y2="783.20" stroke="#000" stroke-width="1.3" stroke-linecap="butt"/>
<line x1="57.00" y1="782.60" x2="254.00" y2="782.60" stroke="#000" stroke-width="1.3" stroke-linecap="butt"/>
<line x1="54.00" y1="782.60" x2="57.60" y2="782.60" stroke="#000" stroke-width="1.3" stroke-linecap="butt"/>
<text x="52.00" y="787.00" font-size="11.4" text-anchor="end" stroke="#000" stroke-width="0.45">0</text>
<line x1="54.00" y1="727.85" x2="57.60" y2="727.85" stroke="#000" stroke-width="1.3" stroke-linecap="butt"/>
<text x="52.00" y="732.25" font-size="11.4" text-anchor="end" stroke="#000" stroke-width="0.45">50</text>
<line x1="54.00" y1="673.10" x2="57.60" y2="673.10" stroke="#000" stroke-width="1.3" stroke-linecap="butt"/>
<text x="52.00" y="677.50" font-size="11.4" text-anchor="end" stroke="#000" stroke-width="0.45">100</text>
<line x1="54.00" y1="618.35" x2="57.60" y2="618.35" stroke="#000" stroke-width="1.3" stroke-linecap="butt"/>
<text x="52.00" y="622.75" font-size="11.4" text-anchor="end" stroke="#000" stroke-width="0.45">150</text>
<text x="25.20" y="794.30" font-size="12.2" transform="rotate(-90 25.20 794.30)" textLength="99.50" lengthAdjust="spacingAndGlyphs" stroke="#000" stroke-width="0.45">Annexin V binding</text>
<text x="25.20" y="605.80" font-size="12.6" text-anchor="end" transform="rotate(-90 25.20 605.80)" textLength="86.00" lengthAdjust="spacingAndGlyphs" stroke="#000" stroke-width="0.45">(% of wild-type)</text>
<rect x="61.60" y="673.10" width="10.60" height="109.50" fill="#000"/>
<line x1="76.40" y1="769.46" x2="76.40" y2="768.58" stroke="#000" stroke-width="1.0" stroke-linecap="butt"/>
<line x1="73.60" y1="768.58" x2="79.20" y2="768.58" stroke="#000" stroke-width="1.0" stroke-linecap="butt"/>
<rect x="72.70" y="769.96" width="7.40" height="12.64" fill="#c8c8c8" stroke="#000" stroke-width="1.0"/>
<line x1="85.90" y1="672.44" x2="85.90" y2="668.17" stroke="#000" stroke-width="1.2" stroke-linecap="butt"/>
<line x1="82.80" y1="668.17" x2="89.00" y2="668.17" stroke="#000" stroke-width="1.2" stroke-linecap="butt"/>
<rect x="80.60" y="672.44" width="10.60" height="110.16" fill="#000"/>
<line x1="95.40" y1="768.37" x2="95.40" y2="767.71" stroke="#000" stroke-width="1.0" stroke-linecap="butt"/>
<line x1="92.60" y1="767.71" x2="98.20" y2="767.71" stroke="#000" stroke-width="1.0" stroke-linecap="butt"/>
<rect x="91.70" y="768.87" width="7.40" height="13.74" fill="#c8c8c8" stroke="#000" stroke-width="1.0"/>
<line x1="104.90" y1="697.19" x2="104.90" y2="694.67" stroke="#000" stroke-width="1.2" stroke-linecap="butt"/>
<line x1="101.80" y1="694.67" x2="108.00" y2="694.67" stroke="#000" stroke-width="1.2" stroke-linecap="butt"/>
<rect x="99.60" y="697.19" width="10.60" height="85.41" fill="#000"/>
<line x1="114.40" y1="768.37" x2="114.40" y2="767.60" stroke="#000" stroke-width="1.0" stroke-linecap="butt"/>
<line x1="111.60" y1="767.60" x2="117.20" y2="767.60" stroke="#000" stroke-width="1.0" stroke-linecap="butt"/>
<rect x="110.70" y="768.87" width="7.40" height="13.74" fill="#c8c8c8" stroke="#000" stroke-width="1.0"/>
<rect x="127.50" y="673.10" width="10.40" height="109.50" fill="#000"/>
<line x1="142.30" y1="745.37" x2="142.30" y2="741.54" stroke="#000" stroke-width="1.0" stroke-linecap="butt"/>
<line x1="139.50" y1="741.54" x2="145.10" y2="741.54" stroke="#000" stroke-width="1.0" stroke-linecap="butt"/>
<rect x="138.40" y="745.87" width="7.80" height="36.73" fill="#c8c8c8" stroke="#000" stroke-width="1.0"/>
<line x1="151.90" y1="687.88" x2="151.90" y2="681.31" stroke="#000" stroke-width="1.2" stroke-linecap="butt"/>
<line x1="148.80" y1="681.31" x2="155.00" y2="681.31" stroke="#000" stroke-width="1.2" stroke-linecap="butt"/>
<rect x="146.70" y="687.88" width="10.40" height="94.72" fill="#000"/>
<rect x="157.60" y="766.68" width="7.80" height="15.92" fill="#c8c8c8" stroke="#000" stroke-width="1.0"/>
<line x1="171.10" y1="700.48" x2="171.10" y2="696.10" stroke="#000" stroke-width="1.2" stroke-linecap="butt"/>
<line x1="168.00" y1="696.10" x2="174.20" y2="696.10" stroke="#000" stroke-width="1.2" stroke-linecap="butt"/>
<rect x="165.90" y="700.48" width="10.40" height="82.12" fill="#000"/>
<line x1="180.70" y1="773.29" x2="180.70" y2="772.53" stroke="#000" stroke-width="1.0" stroke-linecap="butt"/>
<line x1="177.90" y1="772.53" x2="183.50" y2="772.53" stroke="#000" stroke-width="1.0" stroke-linecap="butt"/>
<rect x="176.80" y="773.79" width="7.80" height="8.81" fill="#c8c8c8" stroke="#000" stroke-width="1.0"/>
<rect x="193.30" y="673.10" width="10.30" height="109.50" fill="#000"/>
<line x1="208.15" y1="676.38" x2="208.15" y2="675.51" stroke="#000" stroke-width="1.0" stroke-linecap="butt"/>
<line x1="205.35" y1="675.51" x2="210.95" y2="675.51" stroke="#000" stroke-width="1.0" stroke-linecap="butt"/>
<rect x="204.10" y="676.88" width="8.10" height="105.72" fill="#c8c8c8" stroke="#000" stroke-width="1.0"/>
<line x1="217.85" y1="679.67" x2="217.85" y2="679.01" stroke="#000" stroke-width="1.2" stroke-linecap="butt"/>
<line x1="214.75" y1="679.01" x2="220.95" y2="679.01" stroke="#000" stroke-width="1.2" stroke-linecap="butt"/>
<rect x="212.70" y="679.67" width="10.30" height="102.93" fill="#000"/>
<line x1="227.55" y1="680.76" x2="227.55" y2="679.89" stroke="#000" stroke-width="1.0" stroke-linecap="butt"/>
<line x1="224.75" y1="679.89" x2="230.35" y2="679.89" stroke="#000" stroke-width="1.0" stroke-linecap="butt"/>
<rect x="223.50" y="681.26" width="8.10" height="101.34" fill="#c8c8c8" stroke="#000" stroke-width="1.0"/>
<line x1="237.25" y1="704.86" x2="237.25" y2="700.48" stroke="#000" stroke-width="1.2" stroke-linecap="butt"/>
<line x1="234.15" y1="700.48" x2="240.35" y2="700.48" stroke="#000" stroke-width="1.2" stroke-linecap="butt"/>
<rect x="232.10" y="704.86" width="10.30" height="77.75" fill="#000"/>
<line x1="246.95" y1="702.66" x2="246.95" y2="697.74" stroke="#000" stroke-width="1.0" stroke-linecap="butt"/>
<line x1="244.15" y1="697.74" x2="249.75" y2="697.74" stroke="#000" stroke-width="1.0" stroke-linecap="butt"/>
<rect x="242.90" y="703.16" width="8.10" height="79.44" fill="#c8c8c8" stroke="#000" stroke-width="1.0"/>
<text x="59.50" y="795.60" font-size="9.9" text-anchor="end" stroke="#000" stroke-width="0.5">DMSO</text>
<text x="59.50" y="807.50" font-size="9.9" text-anchor="end" stroke="#000" stroke-width="0.5">Q-VD-OPh</text>
<text x="59.50" y="819.90" font-size="9.9" text-anchor="end" stroke="#000" stroke-width="0.5">Z-DEVD-FMK</text>
<text x="279.20" y="587.50" font-size="17.8" font-weight="bold" stroke="#000" stroke-width="0.4">G</text>
<rect x="340.40" y="584.50" width="12.10" height="11.10" fill="#000"/>
<text x="357.60" y="594.00" font-size="12.5" stroke="#000" stroke-width="0.6">WT</text>
<rect x="341.15" y="604.25" width="10.60" height="10.45" fill="#c8c8c8" stroke="#000" stroke-width="1.5"/>
<text x="357.60" y="613.50" font-size="12.5" stroke="#000" stroke-width="0.60">Rac1<tspan font-size="9.00" dy="-4.60">-/-</tspan></text>
<line x1="322.50" y1="617.35" x2="322.50" y2="782.80" stroke="#000" stroke-width="1.3" stroke-linecap="butt"/>
<line x1="321.90" y1="782.20" x2="520.00" y2="782.20" stroke="#000" stroke-width="1.3" stroke-linecap="butt"/>
<line x1="318.90" y1="782.20" x2="322.50" y2="782.20" stroke="#000" stroke-width="1.3" stroke-linecap="butt"/>
<text x="316.90" y="786.60" font-size="11.4" text-anchor="end" stroke="#000" stroke-width="0.45">0</text>
<line x1="318.90" y1="727.45" x2="322.50" y2="727.45" stroke="#000" stroke-width="1.3" stroke-linecap="butt"/>
<text x="316.90" y="731.85" font-size="11.4" text-anchor="end" stroke="#000" stroke-width="0.45">50</text>
<line x1="318.90" y1="672.70" x2="322.50" y2="672.70" stroke="#000" stroke-width="1.3" stroke-linecap="butt"/>
<text x="316.90" y="677.10" font-size="11.4" text-anchor="end" stroke="#000" stroke-width="0.45">100</text>
<line x1="318.90" y1="617.95" x2="322.50" y2="617.95" stroke="#000" stroke-width="1.3" stroke-linecap="butt"/>
<text x="316.90" y="622.35" font-size="11.4" text-anchor="end" stroke="#000" stroke-width="0.45">150</text>
<text x="292.50" y="701.50" font-size="12.3" text-anchor="middle" transform="rotate(-90 292.50 701.50)" textLength="150.00" lengthAdjust="spacingAndGlyphs" stroke="#000" stroke-width="0.45">MV release (% of wild-type)</text>
<rect x="326.40" y="672.70" width="10.50" height="109.50" fill="#000"/>
<line x1="341.20" y1="774.97" x2="341.20" y2="774.32" stroke="#000" stroke-width="1.0" stroke-linecap="butt"/>
<line x1="338.40" y1="774.32" x2="344.00" y2="774.32" stroke="#000" stroke-width="1.0" stroke-linecap="butt"/>
<rect x="337.40" y="775.47" width="7.60" height="6.73" fill="#c8c8c8" stroke="#000" stroke-width="1.0"/>
<line x1="350.75" y1="666.46" x2="350.75" y2="652.22" stroke="#000" stroke-width="1.2" stroke-linecap="butt"/>
<line x1="347.65" y1="652.22" x2="353.85" y2="652.22" stroke="#000" stroke-width="1.2" stroke-linecap="butt"/>
<rect x="345.50" y="666.46" width="10.50" height="115.74" fill="#000"/>
<line x1="360.30" y1="773.55" x2="360.30" y2="772.89" stroke="#000" stroke-width="1.0" stroke-linecap="butt"/>
<line x1="357.50" y1="772.89" x2="363.10" y2="772.89" stroke="#000" stroke-width="1.0" stroke-linecap="butt"/>
<rect x="356.50" y="774.05" width="7.60" height="8.15" fill="#c8c8c8" stroke="#000" stroke-width="1.0"/>
<line x1="369.85" y1="698.98" x2="369.85" y2="692.96" stroke="#000" stroke-width="1.2" stroke-linecap="butt"/>
<line x1="366.75" y1="692.96" x2="372.95" y2="692.96" stroke="#000" stroke-width="1.2" stroke-linecap="butt"/>
<rect x="364.60" y="698.98" width="10.50" height="83.22" fill="#000"/>
<line x1="379.40" y1="773.55" x2="379.40" y2="772.89" stroke="#000" stroke-width="1.0" stroke-linecap="butt"/>
<line x1="376.60" y1="772.89" x2="382.20" y2="772.89" stroke="#000" stroke-width="1.0" stroke-linecap="butt"/>
<rect x="375.60" y="774.05" width="7.60" height="8.15" fill="#c8c8c8" stroke="#000" stroke-width="1.0"/>
<rect x="392.20" y="672.70" width="10.70" height="109.50" fill="#000"/>
<line x1="407.00" y1="753.73" x2="407.00" y2="752.96" stroke="#000" stroke-width="1.0" stroke-linecap="butt"/>
<line x1="404.20" y1="752.96" x2="409.80" y2="752.96" stroke="#000" stroke-width="1.0" stroke-linecap="butt"/>
<rect x="403.40" y="754.23" width="7.20" height="27.97" fill="#c8c8c8" stroke="#000" stroke-width="1.0"/>
<line x1="416.45" y1="695.70" x2="416.45" y2="693.51" stroke="#000" stroke-width="1.2" stroke-linecap="butt"/>
<line x1="413.35" y1="693.51" x2="419.55" y2="693.51" stroke="#000" stroke-width="1.2" stroke-linecap="butt"/>
<rect x="411.10" y="695.70" width="10.70" height="86.50" fill="#000"/>
<rect x="422.30" y="771.20" width="7.20" height="11.00" fill="#c8c8c8" stroke="#000" stroke-width="1.0"/>
<line x1="435.35" y1="707.74" x2="435.35" y2="703.36" stroke="#000" stroke-width="1.2" stroke-linecap="butt"/>
<line x1="432.25" y1="703.36" x2="438.45" y2="703.36" stroke="#000" stroke-width="1.2" stroke-linecap="butt"/>
<rect x="430.00" y="707.74" width="10.70" height="74.46" fill="#000"/>
<line x1="444.80" y1="775.63" x2="444.80" y2="774.97" stroke="#000" stroke-width="1.0" stroke-linecap="butt"/>
<line x1="442.00" y1="774.97" x2="447.60" y2="774.97" stroke="#000" stroke-width="1.0" stroke-linecap="butt"/>
<rect x="441.20" y="776.13" width="7.20" height="6.07" fill="#c8c8c8" stroke="#000" stroke-width="1.0"/>
<rect x="458.00" y="672.70" width="10.10" height="109.50" fill="#000"/>
<line x1="472.70" y1="678.18" x2="472.70" y2="674.23" stroke="#000" stroke-width="1.0" stroke-linecap="butt"/>
<line x1="469.90" y1="674.23" x2="475.50" y2="674.23" stroke="#000" stroke-width="1.0" stroke-linecap="butt"/>
<rect x="468.60" y="678.68" width="8.20" height="103.52" fill="#c8c8c8" stroke="#000" stroke-width="1.0"/>
<line x1="482.35" y1="686.17" x2="482.35" y2="683.65" stroke="#000" stroke-width="1.2" stroke-linecap="butt"/>
<line x1="479.25" y1="683.65" x2="485.45" y2="683.65" stroke="#000" stroke-width="1.2" stroke-linecap="butt"/>
<rect x="477.30" y="686.17" width="10.10" height="96.03" fill="#000"/>
<line x1="492.00" y1="688.25" x2="492.00" y2="684.85" stroke="#000" stroke-width="1.0" stroke-linecap="butt"/>
<line x1="489.20" y1="684.85" x2="494.80" y2="684.85" stroke="#000" stroke-width="1.0" stroke-linecap="butt"/>
<rect x="487.90" y="688.75" width="8.20" height="93.45" fill="#c8c8c8" stroke="#000" stroke-width="1.0"/>
<line x1="501.65" y1="719.79" x2="501.65" y2="716.17" stroke="#000" stroke-width="1.2" stroke-linecap="butt"/>
<line x1="498.55" y1="716.17" x2="504.75" y2="716.17" stroke="#000" stroke-width="1.2" stroke-linecap="butt"/>
<rect x="496.60" y="719.79" width="10.10" height="62.41" fill="#000"/>
<line x1="511.30" y1="719.79" x2="511.30" y2="715.41" stroke="#000" stroke-width="1.0" stroke-linecap="butt"/>
<line x1="508.50" y1="715.41" x2="514.10" y2="715.41" stroke="#000" stroke-width="1.0" stroke-linecap="butt"/>
<rect x="507.20" y="720.29" width="8.20" height="61.91" fill="#c8c8c8" stroke="#000" stroke-width="1.0"/>
<text x="324.40" y="795.20" font-size="9.9" text-anchor="end" stroke="#000" stroke-width="0.5">DMSO</text>
<text x="324.40" y="807.10" font-size="9.9" text-anchor="end" stroke="#000" stroke-width="0.5">Q-VD-OPh</text>
<text x="324.40" y="819.50" font-size="9.9" text-anchor="end" stroke="#000" stroke-width="0.5">Z-DEVD-FMK</text>
<text x="72.50" y="796.30" font-size="10.0" text-anchor="middle" stroke="#000" stroke-width="0.6">+</text>
<text x="72.50" y="808.36" font-size="12.22" text-anchor="middle" stroke="#000" stroke-width="0.37">-</text>
<text x="72.50" y="820.56" font-size="12.22" text-anchor="middle" stroke="#000" stroke-width="0.37">-</text>
<text x="91.30" y="796.56" font-size="12.22" text-anchor="middle" stroke="#000" stroke-width="0.37">-</text>
<text x="91.30" y="808.10" font-size="10.0" text-anchor="middle" stroke="#000" stroke-width="0.6">+</text>
<text x="91.30" y="820.56" font-size="12.22" text-anchor="middle" stroke="#000" stroke-width="0.37">-</text>
<text x="109.60" y="796.56" font-size="12.22" text-anchor="middle" stroke="#000" stroke-width="0.37">-</text>
<text x="109.60" y="808.36" font-size="12.22" text-anchor="middle" stroke="#000" stroke-width="0.37">-</text>
<text x="109.60" y="820.30" font-size="10.0" text-anchor="middle" stroke="#000" stroke-width="0.6">+</text>
<text x="138.30" y="796.30" font-size="10.0" text-anchor="middle" stroke="#000" stroke-width="0.6">+</text>
<text x="138.30" y="808.36" font-size="12.22" text-anchor="middle" stroke="#000" stroke-width="0.37">-</text>
<text x="138.30" y="820.56" font-size="12.22" text-anchor="middle" stroke="#000" stroke-width="0.37">-</text>
<text x="156.80" y="796.56" font-size="12.22" text-anchor="middle" stroke="#000" stroke-width="0.37">-</text>
<text x="156.80" y="808.10" font-size="10.0" text-anchor="middle" stroke="#000" stroke-width="0.6">+</text>
<text x="156.80" y="820.56" font-size="12.22" text-anchor="middle" stroke="#000" stroke-width="0.37">-</text>
<text x="175.20" y="796.56" font-size="12.22" text-anchor="middle" stroke="#000" stroke-width="0.37">-</text>
<text x="175.20" y="808.36" font-size="12.22" text-anchor="middle" stroke="#000" stroke-width="0.37">-</text>
<text x="175.20" y="820.30" font-size="10.0" text-anchor="middle" stroke="#000" stroke-width="0.6">+</text>
<text x="203.80" y="796.30" font-size="10.0" text-anchor="middle" stroke="#000" stroke-width="0.6">+</text>
<text x="203.80" y="808.36" font-size="12.22" text-anchor="middle" stroke="#000" stroke-width="0.37">-</text>
<text x="203.80" y="820.56" font-size="12.22" text-anchor="middle" stroke="#000" stroke-width="0.37">-</text>
<text x="222.30" y="796.56" font-size="12.22" text-anchor="middle" stroke="#000" stroke-width="0.37">-</text>
<text x="222.30" y="808.10" font-size="10.0" text-anchor="middle" stroke="#000" stroke-width="0.6">+</text>
<text x="222.30" y="820.56" font-size="12.22" text-anchor="middle" stroke="#000" stroke-width="0.37">-</text>
<text x="240.80" y="796.56" font-size="12.22" text-anchor="middle" stroke="#000" stroke-width="0.37">-</text>
<text x="240.80" y="808.36" font-size="12.22" text-anchor="middle" stroke="#000" stroke-width="0.37">-</text>
<text x="240.80" y="820.30" font-size="10.0" text-anchor="middle" stroke="#000" stroke-width="0.6">+</text>
<text x="337.50" y="796.30" font-size="10.0" text-anchor="middle" stroke="#000" stroke-width="0.6">+</text>
<text x="337.50" y="807.96" font-size="12.22" text-anchor="middle" stroke="#000" stroke-width="0.37">-</text>
<text x="337.50" y="820.36" font-size="12.22" text-anchor="middle" stroke="#000" stroke-width="0.37">-</text>
<text x="355.80" y="796.56" font-size="12.22" text-anchor="middle" stroke="#000" stroke-width="0.37">-</text>
<text x="355.80" y="807.70" font-size="10.0" text-anchor="middle" stroke="#000" stroke-width="0.6">+</text>
<text x="355.80" y="820.36" font-size="12.22" text-anchor="middle" stroke="#000" stroke-width="0.37">-</text>
<text x="374.50" y="796.56" font-size="12.22" text-anchor="middle" stroke="#000" stroke-width="0.37">-</text>
<text x="374.50" y="807.96" font-size="12.22" text-anchor="middle" stroke="#000" stroke-width="0.37">-</text>
<text x="374.50" y="820.10" font-size="10.0" text-anchor="middle" stroke="#000" stroke-width="0.6">+</text>
<text x="402.30" y="796.30" font-size="10.0" text-anchor="middle" stroke="#000" stroke-width="0.6">+</text>
<text x="402.30" y="807.96" font-size="12.22" text-anchor="middle" stroke="#000" stroke-width="0.37">-</text>
<text x="402.30" y="820.36" font-size="12.22" text-anchor="middle" stroke="#000" stroke-width="0.37">-</text>
<text x="421.50" y="796.56" font-size="12.22" text-anchor="middle" stroke="#000" stroke-width="0.37">-</text>
<text x="421.50" y="807.70" font-size="10.0" text-anchor="middle" stroke="#000" stroke-width="0.6">+</text>
<text x="421.50" y="820.36" font-size="12.22" text-anchor="middle" stroke="#000" stroke-width="0.37">-</text>
<text x="439.80" y="796.56" font-size="12.22" text-anchor="middle" stroke="#000" stroke-width="0.37">-</text>
<text x="439.80" y="807.96" font-size="12.22" text-anchor="middle" stroke="#000" stroke-width="0.37">-</text>
<text x="439.80" y="820.10" font-size="10.0" text-anchor="middle" stroke="#000" stroke-width="0.6">+</text>
<text x="468.90" y="796.30" font-size="10.0" text-anchor="middle" stroke="#000" stroke-width="0.6">+</text>
<text x="468.90" y="807.96" font-size="12.22" text-anchor="middle" stroke="#000" stroke-width="0.37">-</text>
<text x="468.90" y="820.36" font-size="12.22" text-anchor="middle" stroke="#000" stroke-width="0.37">-</text>
<text x="487.70" y="796.56" font-size="12.22" text-anchor="middle" stroke="#000" stroke-width="0.37">-</text>
<text x="487.70" y="807.70" font-size="10.0" text-anchor="middle" stroke="#000" stroke-width="0.6">+</text>
<text x="487.70" y="820.36" font-size="12.22" text-anchor="middle" stroke="#000" stroke-width="0.37">-</text>
<text x="505.20" y="796.56" font-size="12.22" text-anchor="middle" stroke="#000" stroke-width="0.37">-</text>
<text x="505.20" y="807.96" font-size="12.22" text-anchor="middle" stroke="#000" stroke-width="0.37">-</text>
<text x="505.20" y="820.10" font-size="10.0" text-anchor="middle" stroke="#000" stroke-width="0.6">+</text>
<line x1="70.80" y1="826.90" x2="111.50" y2="826.90" stroke="#000" stroke-width="1.5" stroke-linecap="butt"/>
<text x="91.20" y="838.10" font-size="9.95" text-anchor="middle" stroke="#000" stroke-width="0.5">0.02 U/mL</text>
<line x1="136.00" y1="826.90" x2="176.00" y2="826.90" stroke="#000" stroke-width="1.5" stroke-linecap="butt"/>
<text x="157.00" y="838.10" font-size="9.95" text-anchor="middle" stroke="#000" stroke-width="0.5">0.05 U/mL</text>
<line x1="202.30" y1="826.90" x2="243.00" y2="826.90" stroke="#000" stroke-width="1.5" stroke-linecap="butt"/>
<text x="222.60" y="838.10" font-size="9.95" text-anchor="middle" stroke="#000" stroke-width="0.5">0.2 U/mL</text>
<line x1="335.00" y1="826.90" x2="377.50" y2="826.90" stroke="#000" stroke-width="1.5" stroke-linecap="butt"/>
<text x="356.00" y="838.10" font-size="9.95" text-anchor="middle" stroke="#000" stroke-width="0.5">0.02 U/mL</text>
<line x1="401.50" y1="826.90" x2="440.60" y2="826.90" stroke="#000" stroke-width="1.5" stroke-linecap="butt"/>
<text x="421.40" y="838.10" font-size="9.95" text-anchor="middle" stroke="#000" stroke-width="0.5">0.05 U/mL</text>
<line x1="467.50" y1="826.90" x2="506.50" y2="826.90" stroke="#000" stroke-width="1.5" stroke-linecap="butt"/>
<text x="486.80" y="838.10" font-size="9.95" text-anchor="middle" stroke="#000" stroke-width="0.5">0.2 U/mL</text>
<text x="91.07" y="662.17" font-size="14.76" text-anchor="middle" font-weight="bold" letter-spacing="0.94">***</text>
<line x1="66.33" y1="659.50" x2="114.47" y2="659.50" stroke="#000" stroke-width="1.35" stroke-linecap="butt"/>
<line x1="67.00" y1="658.83" x2="67.00" y2="665.70" stroke="#000" stroke-width="1.35" stroke-linecap="butt"/>
<line x1="75.50" y1="658.83" x2="75.50" y2="665.70" stroke="#000" stroke-width="1.35" stroke-linecap="butt"/>
<line x1="95.00" y1="658.83" x2="95.00" y2="665.70" stroke="#000" stroke-width="1.35" stroke-linecap="butt"/>
<line x1="104.50" y1="658.83" x2="104.50" y2="665.70" stroke="#000" stroke-width="1.35" stroke-linecap="butt"/>
<line x1="113.80" y1="658.83" x2="113.80" y2="665.70" stroke="#000" stroke-width="1.35" stroke-linecap="butt"/>
<text x="157.47" y="646.27" font-size="14.76" text-anchor="middle" font-weight="bold" letter-spacing="0.94">***</text>
<line x1="132.32" y1="644.50" x2="180.68" y2="644.50" stroke="#000" stroke-width="1.35" stroke-linecap="butt"/>
<line x1="133.00" y1="643.83" x2="133.00" y2="650.20" stroke="#000" stroke-width="1.35" stroke-linecap="butt"/>
<line x1="142.00" y1="643.83" x2="142.00" y2="650.20" stroke="#000" stroke-width="1.35" stroke-linecap="butt"/>
<line x1="151.30" y1="643.83" x2="151.30" y2="650.20" stroke="#000" stroke-width="1.35" stroke-linecap="butt"/>
<line x1="161.30" y1="643.83" x2="161.30" y2="650.20" stroke="#000" stroke-width="1.35" stroke-linecap="butt"/>
<line x1="170.80" y1="643.83" x2="170.80" y2="650.20" stroke="#000" stroke-width="1.35" stroke-linecap="butt"/>
<line x1="180.00" y1="643.83" x2="180.00" y2="650.20" stroke="#000" stroke-width="1.35" stroke-linecap="butt"/>
<text x="161.47" y="666.27" font-size="14.76" text-anchor="middle" font-weight="bold" letter-spacing="0.94">***</text>
<line x1="141.32" y1="663.80" x2="180.68" y2="663.80" stroke="#000" stroke-width="1.35" stroke-linecap="butt"/>
<line x1="142.00" y1="663.12" x2="142.00" y2="669.50" stroke="#000" stroke-width="1.35" stroke-linecap="butt"/>
<line x1="161.30" y1="663.12" x2="161.30" y2="669.50" stroke="#000" stroke-width="1.35" stroke-linecap="butt"/>
<line x1="180.00" y1="663.12" x2="180.00" y2="669.50" stroke="#000" stroke-width="1.35" stroke-linecap="butt"/>
<text x="217.67" y="645.07" font-size="14.76" text-anchor="middle" font-weight="bold" letter-spacing="0.94">***</text>
<line x1="197.82" y1="642.80" x2="236.98" y2="642.80" stroke="#000" stroke-width="1.35" stroke-linecap="butt"/>
<line x1="198.50" y1="642.12" x2="198.50" y2="648.20" stroke="#000" stroke-width="1.35" stroke-linecap="butt"/>
<line x1="236.30" y1="642.12" x2="236.30" y2="648.20" stroke="#000" stroke-width="1.35" stroke-linecap="butt"/>
<text x="227.27" y="664.77" font-size="14.76" text-anchor="middle" font-weight="bold" letter-spacing="0.94">***</text>
<line x1="206.82" y1="661.50" x2="246.28" y2="661.50" stroke="#000" stroke-width="1.35" stroke-linecap="butt"/>
<line x1="207.50" y1="660.83" x2="207.50" y2="667.40" stroke="#000" stroke-width="1.35" stroke-linecap="butt"/>
<line x1="245.60" y1="660.83" x2="245.60" y2="667.40" stroke="#000" stroke-width="1.35" stroke-linecap="butt"/>
<text x="355.67" y="645.77" font-size="14.76" text-anchor="middle" font-weight="bold" letter-spacing="0.94">***</text>
<line x1="331.02" y1="643.30" x2="379.38" y2="643.30" stroke="#000" stroke-width="1.35" stroke-linecap="butt"/>
<line x1="331.70" y1="642.62" x2="331.70" y2="649.20" stroke="#000" stroke-width="1.35" stroke-linecap="butt"/>
<line x1="340.40" y1="642.62" x2="340.40" y2="649.20" stroke="#000" stroke-width="1.35" stroke-linecap="butt"/>
<line x1="360.40" y1="642.62" x2="360.40" y2="649.20" stroke="#000" stroke-width="1.35" stroke-linecap="butt"/>
<line x1="369.20" y1="642.62" x2="369.20" y2="649.20" stroke="#000" stroke-width="1.35" stroke-linecap="butt"/>
<line x1="378.70" y1="642.62" x2="378.70" y2="649.20" stroke="#000" stroke-width="1.35" stroke-linecap="butt"/>
<text x="421.67" y="645.77" font-size="14.76" text-anchor="middle" font-weight="bold" letter-spacing="0.94">***</text>
<line x1="396.82" y1="643.60" x2="445.28" y2="643.60" stroke="#000" stroke-width="1.35" stroke-linecap="butt"/>
<line x1="397.50" y1="642.93" x2="397.50" y2="649.50" stroke="#000" stroke-width="1.35" stroke-linecap="butt"/>
<line x1="406.40" y1="642.93" x2="406.40" y2="649.50" stroke="#000" stroke-width="1.35" stroke-linecap="butt"/>
<line x1="416.30" y1="642.93" x2="416.30" y2="649.50" stroke="#000" stroke-width="1.35" stroke-linecap="butt"/>
<line x1="425.80" y1="642.93" x2="425.80" y2="649.50" stroke="#000" stroke-width="1.35" stroke-linecap="butt"/>
<line x1="435.20" y1="642.93" x2="435.20" y2="649.50" stroke="#000" stroke-width="1.35" stroke-linecap="butt"/>
<line x1="444.60" y1="642.93" x2="444.60" y2="649.50" stroke="#000" stroke-width="1.35" stroke-linecap="butt"/>
<text x="426.27" y="663.47" font-size="14.76" text-anchor="middle" font-weight="bold" letter-spacing="0.94">***</text>
<line x1="405.72" y1="661.00" x2="445.28" y2="661.00" stroke="#000" stroke-width="1.35" stroke-linecap="butt"/>
<line x1="406.40" y1="660.33" x2="406.40" y2="666.70" stroke="#000" stroke-width="1.35" stroke-linecap="butt"/>
<line x1="425.80" y1="660.33" x2="425.80" y2="666.70" stroke="#000" stroke-width="1.35" stroke-linecap="butt"/>
<line x1="444.60" y1="660.33" x2="444.60" y2="666.70" stroke="#000" stroke-width="1.35" stroke-linecap="butt"/>
<text x="482.37" y="630.67" font-size="14.76" text-anchor="middle" font-weight="bold" letter-spacing="0.94">***</text>
<line x1="462.02" y1="628.50" x2="501.07" y2="628.50" stroke="#000" stroke-width="1.35" stroke-linecap="butt"/>
<line x1="462.70" y1="627.83" x2="462.70" y2="633.30" stroke="#000" stroke-width="1.35" stroke-linecap="butt"/>
<line x1="500.40" y1="627.83" x2="500.40" y2="633.30" stroke="#000" stroke-width="1.35" stroke-linecap="butt"/>
<text x="473.32" y="641.37" font-size="14.76" text-anchor="middle" font-weight="bold" letter-spacing="1.25">**</text>
<line x1="462.02" y1="638.60" x2="482.68" y2="638.60" stroke="#000" stroke-width="1.35" stroke-linecap="butt"/>
<line x1="462.70" y1="637.93" x2="462.70" y2="643.30" stroke="#000" stroke-width="1.35" stroke-linecap="butt"/>
<line x1="482.00" y1="637.93" x2="482.00" y2="643.30" stroke="#000" stroke-width="1.35" stroke-linecap="butt"/>
<text x="491.47" y="657.97" font-size="14.76" text-anchor="middle" font-weight="bold" letter-spacing="0.94">***</text>
<line x1="471.52" y1="655.20" x2="510.88" y2="655.20" stroke="#000" stroke-width="1.35" stroke-linecap="butt"/>
<line x1="472.20" y1="654.53" x2="472.20" y2="660.20" stroke="#000" stroke-width="1.35" stroke-linecap="butt"/>
<line x1="510.20" y1="654.53" x2="510.20" y2="660.20" stroke="#000" stroke-width="1.35" stroke-linecap="butt"/>
<text x="481.60" y="668.77" font-size="14.76" text-anchor="middle" font-weight="bold" letter-spacing="0.00">*</text>
<line x1="471.52" y1="666.30" x2="491.88" y2="666.30" stroke="#000" stroke-width="1.35" stroke-linecap="butt"/>
<line x1="472.20" y1="665.62" x2="472.20" y2="670.90" stroke="#000" stroke-width="1.35" stroke-linecap="butt"/>
<line x1="491.20" y1="665.62" x2="491.20" y2="670.90" stroke="#000" stroke-width="1.35" stroke-linecap="butt"/>
</svg>
</body></html>
